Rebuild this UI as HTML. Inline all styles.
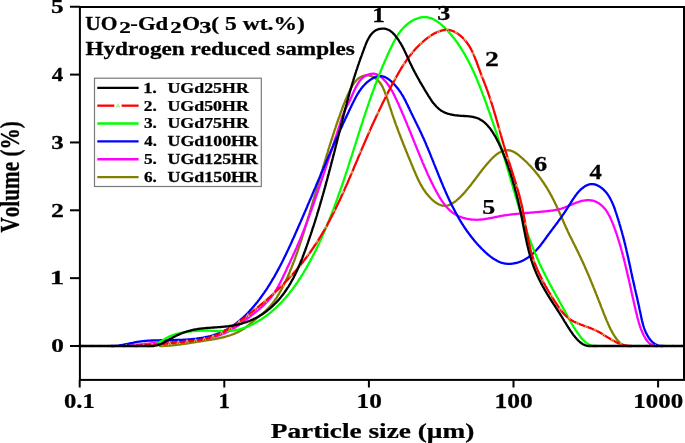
<!DOCTYPE html>
<html><head><meta charset="utf-8"><style>
html,body{margin:0;padding:0;background:#fff;width:685px;height:443px;overflow:hidden}
svg{display:block;will-change:transform}
text{font-family:"Liberation Serif",serif;font-weight:bold}
</style></head><body>
<svg width="685" height="443" viewBox="0 0 685 443"><rect width="685" height="443" fill="#fff"/><g stroke="#000" stroke-width="2" fill="none" stroke-linecap="butt">
<rect x="79.9" y="7.0" width="604.1" height="372.9"/>
<line x1="70" y1="346.00" x2="80" y2="346.00"/>
<line x1="70" y1="278.15" x2="80" y2="278.15"/>
<line x1="70" y1="210.30" x2="80" y2="210.30"/>
<line x1="70" y1="142.45" x2="80" y2="142.45"/>
<line x1="70" y1="74.60" x2="80" y2="74.60"/>
<line x1="70" y1="6.75" x2="80" y2="6.75"/>
<line x1="79.70" y1="380" x2="79.70" y2="387.5"/>
<line x1="224.30" y1="380" x2="224.30" y2="387.5"/>
<line x1="368.90" y1="380" x2="368.90" y2="387.5"/>
<line x1="513.50" y1="380" x2="513.50" y2="387.5"/>
<line x1="658.10" y1="380" x2="658.10" y2="387.5"/>
</g>
<g fill="none" stroke-width="2.3" stroke-linejoin="round" stroke-linecap="round">
<path d="M160.0,346.0 L161.0,346.0 L162.0,346.0 L163.0,346.0 L164.0,345.9 L165.0,345.9 L166.0,345.8 L167.0,345.8 L168.0,345.7 L169.0,345.6 L170.0,345.5 L170.9,345.5 L171.9,345.4 L172.9,345.3 L173.9,345.2 L174.9,345.1 L175.9,345.0 L176.9,344.8 L177.9,344.7 L178.9,344.6 L179.9,344.5 L180.9,344.3 L181.9,344.2 L182.9,344.1 L183.8,343.9 L184.8,343.8 L185.8,343.6 L186.8,343.5 L187.8,343.3 L188.8,343.2 L189.8,343.0 L190.8,342.9 L191.7,342.7 L192.7,342.6 L193.7,342.4 L194.7,342.3 L195.7,342.1 L196.7,341.9 L197.7,341.8 L198.6,341.6 L199.6,341.5 L200.6,341.3 L201.6,341.2 L202.6,341.0 L203.6,340.8 L204.6,340.7 L205.6,340.5 L206.5,340.4 L207.5,340.2 L208.5,340.1 L209.5,339.9 L210.5,339.8 L211.5,339.6 L212.5,339.4 L213.4,339.3 L214.4,339.1 L215.4,338.9 L216.4,338.7 L217.4,338.5 L218.4,338.3 L219.3,338.1 L220.3,337.9 L221.3,337.7 L222.3,337.5 L223.2,337.3 L224.2,337.0 L225.2,336.8 L226.1,336.5 L227.1,336.2 L228.0,335.9 L229.0,335.6 L229.9,335.3 L230.9,335.0 L231.8,334.7 L232.8,334.3 L233.7,334.0 L234.6,333.6 L235.5,333.2 L236.5,332.8 L237.4,332.4 L238.3,331.9 L239.1,331.5 L240.0,331.0 L240.9,330.5 L241.8,330.0 L242.6,329.5 L243.4,328.9 L244.3,328.4 L245.1,327.8 L245.9,327.2 L246.7,326.6 L247.5,326.0 L248.3,325.4 L249.0,324.8 L249.8,324.1 L250.6,323.5 L251.3,322.8 L252.1,322.2 L252.9,321.5 L253.6,320.9 L254.4,320.2 L255.1,319.6 L255.9,318.9 L256.7,318.3 L257.4,317.7 L258.2,317.0 L259.0,316.4 L259.8,315.8 L260.5,315.1 L261.3,314.5 L262.1,313.9 L262.8,313.2 L263.6,312.6 L264.4,311.9 L265.1,311.3 L265.9,310.6 L266.6,309.9 L267.3,309.2 L268.0,308.5 L268.7,307.8 L269.4,307.1 L270.1,306.3 L270.7,305.6 L271.4,304.8 L272.0,304.0 L272.6,303.3 L273.2,302.5 L273.8,301.7 L274.4,300.9 L275.0,300.0 L275.5,299.2 L276.1,298.4 L276.7,297.6 L277.2,296.7 L277.7,295.9 L278.2,295.0 L278.8,294.2 L279.3,293.3 L279.8,292.4 L280.3,291.6 L280.7,290.7 L281.2,289.8 L281.7,288.9 L282.2,288.1 L282.6,287.2 L283.1,286.3 L283.5,285.4 L284.0,284.5 L284.4,283.6 L284.8,282.7 L285.3,281.8 L285.7,280.9 L286.1,280.0 L286.6,279.1 L287.0,278.2 L287.4,277.3 L287.8,276.4 L288.2,275.4 L288.6,274.5 L289.0,273.6 L289.4,272.7 L289.8,271.8 L290.2,270.8 L290.5,269.9 L290.9,269.0 L291.3,268.1 L291.7,267.2 L292.0,266.2 L292.4,265.3 L292.8,264.4 L293.1,263.4 L293.5,262.5 L293.9,261.6 L294.2,260.6 L294.6,259.7 L294.9,258.8 L295.2,257.8 L295.6,256.9 L295.9,255.9 L296.3,255.0 L296.6,254.1 L296.9,253.1 L297.3,252.2 L297.6,251.2 L297.9,250.3 L298.2,249.3 L298.5,248.4 L298.9,247.4 L299.2,246.5 L299.5,245.6 L299.8,244.6 L300.1,243.7 L300.4,242.7 L300.7,241.8 L301.0,240.8 L301.4,239.9 L301.7,238.9 L302.0,238.0 L302.3,237.0 L302.6,236.0 L302.9,235.1 L303.2,234.1 L303.5,233.2 L303.8,232.2 L304.1,231.3 L304.4,230.3 L304.6,229.4 L304.9,228.4 L305.2,227.5 L305.5,226.5 L305.8,225.6 L306.1,224.6 L306.4,223.6 L306.7,222.7 L307.0,221.7 L307.3,220.8 L307.6,219.8 L307.8,218.9 L308.1,217.9 L308.4,216.9 L308.7,216.0 L309.0,215.0 L309.3,214.1 L309.6,213.1 L309.9,212.2 L310.1,211.2 L310.4,210.2 L310.7,209.3 L311.0,208.3 L311.3,207.4 L311.6,206.4 L311.8,205.5 L312.1,204.5 L312.4,203.5 L312.7,202.6 L313.0,201.6 L313.3,200.7 L313.5,199.7 L313.8,198.8 L314.1,197.8 L314.4,196.8 L314.7,195.9 L314.9,194.9 L315.2,194.0 L315.5,193.0 L315.8,192.0 L316.1,191.1 L316.3,190.1 L316.6,189.2 L316.9,188.2 L317.2,187.2 L317.5,186.3 L317.7,185.3 L318.0,184.4 L318.3,183.4 L318.6,182.5 L318.9,181.5 L319.2,180.5 L319.4,179.6 L319.7,178.6 L320.0,177.7 L320.3,176.7 L320.6,175.7 L320.8,174.8 L321.1,173.8 L321.4,172.9 L321.7,171.9 L322.0,171.0 L322.3,170.0 L322.6,169.0 L322.8,168.1 L323.1,167.1 L323.4,166.2 L323.7,165.2 L324.0,164.3 L324.3,163.3 L324.6,162.3 L324.8,161.4 L325.1,160.4 L325.4,159.5 L325.7,158.5 L326.0,157.6 L326.3,156.6 L326.6,155.7 L326.9,154.7 L327.2,153.7 L327.5,152.8 L327.8,151.8 L328.0,150.9 L328.3,149.9 L328.6,149.0 L328.9,148.0 L329.2,147.1 L329.5,146.1 L329.8,145.2 L330.1,144.2 L330.4,143.3 L330.7,142.3 L331.0,141.3 L331.3,140.4 L331.6,139.4 L332.0,138.5 L332.3,137.5 L332.6,136.6 L332.9,135.6 L333.2,134.7 L333.5,133.7 L333.8,132.8 L334.1,131.8 L334.4,130.9 L334.7,129.9 L335.1,129.0 L335.4,128.1 L335.7,127.1 L336.0,126.2 L336.3,125.2 L336.6,124.3 L337.0,123.3 L337.3,122.4 L337.6,121.4 L337.9,120.5 L338.3,119.5 L338.6,118.6 L338.9,117.7 L339.3,116.7 L339.6,115.8 L339.9,114.8 L340.3,113.9 L340.6,112.9 L340.9,112.0 L341.3,111.1 L341.6,110.1 L342.0,109.2 L342.3,108.3 L342.7,107.3 L343.0,106.4 L343.4,105.5 L343.7,104.5 L344.1,103.6 L344.5,102.7 L344.9,101.7 L345.2,100.8 L345.6,99.9 L346.0,99.0 L346.4,98.1 L346.8,97.1 L347.2,96.2 L347.6,95.3 L348.0,94.4 L348.4,93.5 L348.8,92.6 L349.3,91.7 L349.7,90.8 L350.1,89.9 L350.6,89.0 L351.0,88.1 L351.5,87.2 L352.0,86.4 L352.5,85.5 L353.0,84.6 L353.6,83.8 L354.1,83.0 L354.7,82.2 L355.4,81.4 L356.0,80.7 L356.7,79.9 L357.5,79.3 L358.2,78.6 L359.0,78.0 L359.9,77.5 L360.8,77.0 L361.7,76.6 L362.6,76.2 L363.5,75.9 L364.5,75.6 L365.5,75.5 L366.5,75.4 L367.5,75.4 L368.5,75.4 L369.5,75.6 L370.4,75.8 L371.4,76.1 L372.3,76.5 L373.2,76.9 L374.1,77.4 L374.9,77.9 L375.7,78.5 L376.5,79.1 L377.3,79.8 L378.0,80.5 L378.7,81.2 L379.3,81.9 L380.0,82.7 L380.5,83.5 L381.1,84.4 L381.6,85.2 L382.1,86.1 L382.6,87.0 L383.0,87.9 L383.4,88.8 L383.8,89.7 L384.2,90.6 L384.6,91.5 L384.9,92.5 L385.3,93.4 L385.6,94.3 L386.0,95.3 L386.3,96.2 L386.7,97.2 L387.0,98.1 L387.3,99.0 L387.6,100.0 L388.0,100.9 L388.3,101.9 L388.6,102.8 L388.9,103.8 L389.2,104.7 L389.5,105.7 L389.8,106.6 L390.1,107.6 L390.4,108.5 L390.8,109.5 L391.1,110.4 L391.4,111.4 L391.7,112.3 L392.0,113.3 L392.3,114.2 L392.6,115.2 L393.0,116.1 L393.3,117.1 L393.6,118.0 L393.9,118.9 L394.3,119.9 L394.6,120.8 L394.9,121.8 L395.3,122.7 L395.6,123.7 L395.9,124.6 L396.3,125.5 L396.6,126.5 L397.0,127.4 L397.3,128.3 L397.7,129.3 L398.0,130.2 L398.4,131.2 L398.7,132.1 L399.1,133.0 L399.4,134.0 L399.8,134.9 L400.2,135.8 L400.5,136.8 L400.9,137.7 L401.2,138.6 L401.6,139.5 L402.0,140.5 L402.3,141.4 L402.7,142.3 L403.1,143.3 L403.4,144.2 L403.8,145.1 L404.2,146.0 L404.5,147.0 L404.9,147.9 L405.3,148.8 L405.7,149.8 L406.0,150.7 L406.4,151.6 L406.8,152.5 L407.2,153.5 L407.5,154.4 L407.9,155.3 L408.3,156.2 L408.7,157.2 L409.1,158.1 L409.4,159.0 L409.8,159.9 L410.2,160.8 L410.6,161.8 L411.0,162.7 L411.3,163.6 L411.7,164.5 L412.1,165.5 L412.5,166.4 L412.9,167.3 L413.2,168.2 L413.6,169.2 L414.0,170.1 L414.4,171.0 L414.8,171.9 L415.2,172.8 L415.6,173.8 L416.0,174.7 L416.4,175.6 L416.8,176.5 L417.2,177.4 L417.6,178.3 L418.0,179.2 L418.4,180.1 L418.9,181.0 L419.3,181.9 L419.8,182.8 L420.3,183.7 L420.7,184.6 L421.2,185.4 L421.7,186.3 L422.2,187.2 L422.7,188.0 L423.3,188.9 L423.8,189.7 L424.4,190.5 L425.0,191.3 L425.5,192.2 L426.1,193.0 L426.8,193.7 L427.4,194.5 L428.0,195.3 L428.7,196.1 L429.3,196.8 L430.0,197.5 L430.7,198.2 L431.4,199.0 L432.1,199.6 L432.9,200.3 L433.6,201.0 L434.4,201.6 L435.2,202.2 L436.0,202.7 L436.9,203.3 L437.7,203.8 L438.6,204.3 L439.5,204.7 L440.5,205.0 L441.4,205.3 L442.4,205.6 L443.4,205.7 L444.4,205.8 L445.4,205.8 L446.4,205.7 L447.3,205.5 L448.3,205.3 L449.3,204.9 L450.2,204.5 L451.1,204.1 L452.0,203.6 L452.8,203.1 L453.7,202.6 L454.5,202.0 L455.3,201.4 L456.1,200.8 L456.8,200.2 L457.6,199.5 L458.3,198.9 L459.1,198.2 L459.8,197.5 L460.5,196.8 L461.2,196.1 L461.9,195.3 L462.6,194.6 L463.3,193.9 L463.9,193.2 L464.6,192.4 L465.3,191.7 L465.9,190.9 L466.6,190.1 L467.2,189.4 L467.8,188.6 L468.5,187.8 L469.1,187.1 L469.7,186.3 L470.4,185.5 L471.0,184.7 L471.6,183.9 L472.2,183.1 L472.8,182.3 L473.4,181.6 L474.0,180.8 L474.6,180.0 L475.2,179.2 L475.8,178.4 L476.4,177.6 L477.0,176.8 L477.6,176.0 L478.2,175.2 L478.8,174.4 L479.4,173.6 L480.0,172.8 L480.6,172.0 L481.2,171.2 L481.8,170.4 L482.4,169.6 L483.0,168.8 L483.7,168.0 L484.3,167.2 L484.9,166.5 L485.6,165.7 L486.2,164.9 L486.8,164.2 L487.5,163.4 L488.2,162.7 L488.8,161.9 L489.5,161.2 L490.2,160.4 L490.8,159.7 L491.5,159.0 L492.2,158.3 L492.9,157.6 L493.7,156.9 L494.4,156.2 L495.2,155.6 L495.9,154.9 L496.7,154.3 L497.5,153.7 L498.4,153.2 L499.2,152.6 L500.1,152.2 L501.0,151.7 L501.9,151.3 L502.8,151.0 L503.8,150.7 L504.8,150.5 L505.8,150.3 L506.8,150.3 L507.8,150.2 L508.7,150.3 L509.7,150.4 L510.7,150.7 L511.7,151.0 L512.6,151.3 L513.5,151.7 L514.4,152.2 L515.2,152.7 L516.1,153.3 L516.9,153.8 L517.7,154.4 L518.5,155.0 L519.3,155.7 L520.0,156.3 L520.8,157.0 L521.6,157.6 L522.3,158.3 L523.1,158.9 L523.8,159.6 L524.5,160.3 L525.3,161.0 L526.0,161.6 L526.7,162.3 L527.4,163.0 L528.1,163.8 L528.8,164.5 L529.5,165.2 L530.2,165.9 L530.9,166.6 L531.5,167.4 L532.2,168.1 L532.9,168.9 L533.5,169.6 L534.2,170.4 L534.8,171.1 L535.5,171.9 L536.1,172.7 L536.7,173.5 L537.4,174.2 L538.0,175.0 L538.6,175.8 L539.2,176.6 L539.8,177.4 L540.4,178.2 L541.0,179.0 L541.5,179.8 L542.1,180.7 L542.7,181.5 L543.2,182.3 L543.8,183.1 L544.3,184.0 L544.9,184.8 L545.4,185.7 L546.0,186.5 L546.5,187.3 L547.0,188.2 L547.5,189.0 L548.0,189.9 L548.6,190.8 L549.1,191.6 L549.6,192.5 L550.0,193.4 L550.5,194.2 L551.0,195.1 L551.5,196.0 L552.0,196.9 L552.4,197.8 L552.9,198.6 L553.3,199.5 L553.8,200.4 L554.2,201.3 L554.7,202.2 L555.1,203.1 L555.5,204.0 L556.0,204.9 L556.4,205.8 L556.8,206.7 L557.2,207.6 L557.6,208.5 L558.1,209.5 L558.5,210.4 L558.9,211.3 L559.3,212.2 L559.7,213.1 L560.1,214.0 L560.5,214.9 L560.9,215.9 L561.3,216.8 L561.7,217.7 L562.1,218.6 L562.5,219.5 L562.9,220.4 L563.3,221.3 L563.7,222.3 L564.1,223.2 L564.5,224.1 L564.9,225.0 L565.3,225.9 L565.7,226.8 L566.1,227.7 L566.5,228.6 L567.0,229.5 L567.4,230.4 L567.8,231.4 L568.2,232.3 L568.7,233.2 L569.1,234.1 L569.5,235.0 L570.0,235.9 L570.4,236.7 L570.9,237.6 L571.3,238.5 L571.7,239.4 L572.2,240.3 L572.6,241.2 L573.1,242.1 L573.5,243.0 L574.0,243.9 L574.4,244.8 L574.9,245.7 L575.3,246.6 L575.8,247.5 L576.2,248.4 L576.6,249.3 L577.1,250.2 L577.5,251.1 L578.0,252.0 L578.4,252.9 L578.8,253.8 L579.3,254.7 L579.7,255.6 L580.1,256.5 L580.6,257.4 L581.0,258.3 L581.4,259.2 L581.8,260.1 L582.2,261.0 L582.7,261.9 L583.1,262.8 L583.5,263.7 L583.9,264.6 L584.3,265.5 L584.7,266.4 L585.1,267.4 L585.5,268.3 L585.9,269.2 L586.3,270.1 L586.7,271.0 L587.1,271.9 L587.5,272.9 L587.9,273.8 L588.3,274.7 L588.7,275.6 L589.1,276.5 L589.5,277.5 L589.9,278.4 L590.2,279.3 L590.6,280.2 L591.0,281.1 L591.4,282.1 L591.8,283.0 L592.1,283.9 L592.5,284.8 L592.9,285.8 L593.3,286.7 L593.6,287.6 L594.0,288.5 L594.4,289.5 L594.8,290.4 L595.1,291.3 L595.5,292.2 L595.9,293.2 L596.2,294.1 L596.6,295.0 L597.0,296.0 L597.3,296.9 L597.7,297.8 L598.1,298.8 L598.4,299.7 L598.8,300.6 L599.2,301.5 L599.5,302.5 L599.9,303.4 L600.3,304.3 L600.6,305.3 L601.0,306.2 L601.3,307.1 L601.7,308.1 L602.1,309.0 L602.4,309.9 L602.8,310.8 L603.2,311.8 L603.5,312.7 L603.9,313.6 L604.2,314.6 L604.6,315.5 L605.0,316.4 L605.4,317.4 L605.7,318.3 L606.1,319.2 L606.5,320.1 L606.9,321.1 L607.3,322.0 L607.7,322.9 L608.1,323.8 L608.5,324.7 L608.9,325.6 L609.3,326.5 L609.7,327.4 L610.2,328.3 L610.6,329.2 L611.1,330.1 L611.6,331.0 L612.0,331.9 L612.5,332.7 L613.0,333.6 L613.5,334.4 L614.1,335.3 L614.6,336.1 L615.2,337.0 L615.7,337.8 L616.3,338.6 L616.9,339.4 L617.5,340.2 L618.2,340.9 L618.9,341.7 L619.6,342.4 L620.3,343.1 L621.1,343.7 L621.9,344.2 L622.8,344.8 L623.7,345.2 L624.6,345.5 L625.6,345.8 L626.5,346.0 L627.5,346.0 L628.5,346.0" stroke="#808000"/>
<path d="M123.0,346.0 L124.0,346.0 L125.0,345.9 L126.0,345.8 L127.0,345.8 L128.0,345.7 L129.0,345.6 L130.0,345.5 L131.0,345.4 L132.0,345.3 L132.9,345.2 L133.9,345.1 L134.9,345.0 L135.9,344.9 L136.9,344.8 L137.9,344.7 L138.9,344.6 L139.9,344.5 L140.9,344.4 L141.9,344.3 L142.9,344.2 L143.9,344.1 L144.9,344.0 L145.9,343.9 L146.9,343.8 L147.9,343.7 L148.9,343.6 L149.9,343.5 L150.8,343.4 L151.8,343.3 L152.8,343.2 L153.8,343.1 L154.8,343.0 L155.8,342.9 L156.8,342.8 L157.8,342.7 L158.8,342.6 L159.8,342.5 L160.8,342.4 L161.8,342.3 L162.8,342.2 L163.8,342.1 L164.8,342.0 L165.8,341.9 L166.8,341.8 L167.8,341.7 L168.7,341.7 L169.7,341.6 L170.7,341.5 L171.7,341.4 L172.7,341.3 L173.7,341.2 L174.7,341.2 L175.7,341.1 L176.7,341.0 L177.7,341.0 L178.7,340.9 L179.7,340.8 L180.7,340.8 L181.7,340.7 L182.7,340.6 L183.7,340.6 L184.7,340.5 L185.7,340.4 L186.7,340.4 L187.7,340.3 L188.7,340.3 L189.7,340.2 L190.7,340.1 L191.7,340.0 L192.7,340.0 L193.7,339.9 L194.7,339.8 L195.7,339.7 L196.7,339.6 L197.7,339.5 L198.6,339.4 L199.6,339.3 L200.6,339.2 L201.6,339.1 L202.6,339.0 L203.6,338.8 L204.6,338.7 L205.6,338.5 L206.6,338.4 L207.6,338.2 L208.5,338.0 L209.5,337.8 L210.5,337.6 L211.5,337.4 L212.5,337.2 L213.4,337.0 L214.4,336.7 L215.4,336.5 L216.3,336.2 L217.3,335.9 L218.2,335.6 L219.2,335.3 L220.1,335.0 L221.1,334.7 L222.0,334.3 L222.9,334.0 L223.9,333.6 L224.8,333.2 L225.7,332.8 L226.6,332.4 L227.5,331.9 L228.4,331.5 L229.3,331.0 L230.1,330.5 L231.0,330.0 L231.9,329.5 L232.7,329.0 L233.6,328.5 L234.4,327.9 L235.3,327.4 L236.1,326.8 L236.9,326.3 L237.8,325.7 L238.6,325.2 L239.4,324.6 L240.2,324.0 L241.0,323.4 L241.8,322.8 L242.6,322.2 L243.4,321.6 L244.2,321.0 L245.0,320.4 L245.8,319.8 L246.6,319.2 L247.4,318.6 L248.2,318.0 L249.0,317.4 L249.8,316.8 L250.6,316.2 L251.4,315.5 L252.1,314.9 L252.9,314.3 L253.7,313.7 L254.5,313.1 L255.3,312.4 L256.0,311.8 L256.8,311.2 L257.6,310.5 L258.3,309.9 L259.1,309.2 L259.9,308.6 L260.6,307.9 L261.4,307.3 L262.1,306.6 L262.9,305.9 L263.6,305.3 L264.3,304.6 L265.0,303.9 L265.8,303.2 L266.5,302.5 L267.2,301.8 L267.8,301.0 L268.5,300.3 L269.2,299.5 L269.8,298.8 L270.5,298.0 L271.1,297.2 L271.7,296.4 L272.3,295.6 L272.9,294.8 L273.5,294.0 L274.0,293.2 L274.6,292.4 L275.1,291.5 L275.7,290.7 L276.2,289.8 L276.7,289.0 L277.2,288.1 L277.7,287.2 L278.2,286.4 L278.7,285.5 L279.1,284.6 L279.6,283.7 L280.1,282.8 L280.5,282.0 L281.0,281.1 L281.4,280.2 L281.9,279.3 L282.3,278.4 L282.8,277.5 L283.2,276.6 L283.6,275.7 L284.0,274.8 L284.5,273.9 L284.9,273.0 L285.3,272.1 L285.7,271.2 L286.2,270.3 L286.6,269.3 L287.0,268.4 L287.4,267.5 L287.9,266.6 L288.3,265.7 L288.7,264.8 L289.1,263.9 L289.6,263.0 L290.0,262.1 L290.4,261.2 L290.8,260.3 L291.2,259.4 L291.7,258.5 L292.1,257.6 L292.5,256.7 L292.9,255.8 L293.3,254.8 L293.7,253.9 L294.2,253.0 L294.6,252.1 L295.0,251.2 L295.4,250.3 L295.8,249.4 L296.2,248.5 L296.6,247.6 L297.0,246.6 L297.4,245.7 L297.8,244.8 L298.2,243.9 L298.6,243.0 L299.0,242.0 L299.4,241.1 L299.8,240.2 L300.1,239.3 L300.5,238.4 L300.9,237.4 L301.3,236.5 L301.7,235.6 L302.0,234.7 L302.4,233.7 L302.8,232.8 L303.2,231.9 L303.5,230.9 L303.9,230.0 L304.3,229.1 L304.6,228.2 L305.0,227.2 L305.3,226.3 L305.7,225.4 L306.0,224.4 L306.4,223.5 L306.8,222.6 L307.1,221.6 L307.5,220.7 L307.8,219.7 L308.2,218.8 L308.5,217.9 L308.8,216.9 L309.2,216.0 L309.5,215.1 L309.9,214.1 L310.2,213.2 L310.5,212.2 L310.9,211.3 L311.2,210.4 L311.6,209.4 L311.9,208.5 L312.2,207.5 L312.6,206.6 L312.9,205.6 L313.2,204.7 L313.6,203.8 L313.9,202.8 L314.2,201.9 L314.5,200.9 L314.9,200.0 L315.2,199.0 L315.5,198.1 L315.8,197.1 L316.2,196.2 L316.5,195.3 L316.8,194.3 L317.1,193.4 L317.5,192.4 L317.8,191.5 L318.1,190.5 L318.4,189.6 L318.7,188.6 L319.1,187.7 L319.4,186.7 L319.7,185.8 L320.0,184.8 L320.3,183.9 L320.6,183.0 L321.0,182.0 L321.3,181.1 L321.6,180.1 L321.9,179.2 L322.2,178.2 L322.6,177.3 L322.9,176.3 L323.2,175.4 L323.5,174.4 L323.8,173.5 L324.1,172.5 L324.5,171.6 L324.8,170.6 L325.1,169.7 L325.4,168.7 L325.7,167.8 L326.0,166.8 L326.4,165.9 L326.7,164.9 L327.0,164.0 L327.3,163.0 L327.6,162.1 L327.9,161.1 L328.2,160.2 L328.6,159.2 L328.9,158.3 L329.2,157.3 L329.5,156.4 L329.8,155.5 L330.1,154.5 L330.4,153.6 L330.7,152.6 L331.0,151.7 L331.4,150.7 L331.7,149.8 L332.0,148.8 L332.3,147.9 L332.6,146.9 L332.9,146.0 L333.2,145.0 L333.5,144.0 L333.8,143.1 L334.1,142.1 L334.4,141.2 L334.7,140.2 L335.0,139.3 L335.4,138.3 L335.7,137.4 L336.0,136.4 L336.3,135.5 L336.6,134.5 L336.9,133.6 L337.2,132.6 L337.5,131.7 L337.8,130.7 L338.1,129.8 L338.4,128.8 L338.7,127.9 L339.0,126.9 L339.3,126.0 L339.6,125.0 L339.9,124.1 L340.2,123.1 L340.5,122.1 L340.8,121.2 L341.1,120.2 L341.4,119.3 L341.7,118.3 L342.0,117.4 L342.4,116.5 L342.7,115.5 L343.1,114.6 L343.4,113.7 L343.8,112.7 L344.2,111.8 L344.6,110.9 L345.0,110.0 L345.5,109.1 L345.9,108.2 L346.4,107.3 L346.8,106.4 L347.3,105.5 L347.8,104.7 L348.2,103.8 L348.7,102.9 L349.1,102.0 L349.6,101.1 L350.0,100.2 L350.4,99.3 L350.8,98.4 L351.3,97.5 L351.6,96.5 L352.0,95.6 L352.4,94.7 L352.8,93.8 L353.2,92.9 L353.6,92.0 L354.0,91.0 L354.4,90.1 L354.9,89.2 L355.3,88.3 L355.7,87.4 L356.2,86.5 L356.7,85.7 L357.2,84.8 L357.7,83.9 L358.2,83.1 L358.8,82.3 L359.3,81.4 L360.0,80.6 L360.6,79.9 L361.3,79.1 L362.0,78.4 L362.7,77.8 L363.5,77.1 L364.3,76.5 L365.1,76.0 L366.0,75.5 L366.9,75.1 L367.8,74.7 L368.8,74.4 L369.7,74.1 L370.7,73.9 L371.7,73.8 L372.7,73.7 L373.7,73.7 L374.7,73.9 L375.7,74.1 L376.6,74.4 L377.5,74.8 L378.4,75.2 L379.3,75.8 L380.1,76.3 L380.9,76.9 L381.7,77.6 L382.4,78.3 L383.1,78.9 L383.8,79.7 L384.5,80.4 L385.2,81.1 L385.8,81.9 L386.5,82.6 L387.1,83.4 L387.7,84.2 L388.3,85.0 L388.9,85.9 L389.4,86.7 L390.0,87.5 L390.5,88.4 L391.0,89.2 L391.5,90.1 L392.0,90.9 L392.5,91.8 L393.0,92.7 L393.4,93.6 L393.9,94.5 L394.4,95.4 L394.8,96.3 L395.2,97.2 L395.7,98.1 L396.1,99.0 L396.5,99.9 L396.9,100.8 L397.3,101.7 L397.8,102.6 L398.2,103.5 L398.6,104.4 L399.0,105.3 L399.4,106.2 L399.8,107.2 L400.2,108.1 L400.6,109.0 L401.0,109.9 L401.4,110.8 L401.8,111.7 L402.2,112.7 L402.6,113.6 L403.0,114.5 L403.4,115.4 L403.8,116.3 L404.2,117.2 L404.5,118.2 L404.9,119.1 L405.3,120.0 L405.7,120.9 L406.1,121.9 L406.5,122.8 L406.9,123.7 L407.2,124.6 L407.6,125.6 L408.0,126.5 L408.4,127.4 L408.8,128.3 L409.1,129.3 L409.5,130.2 L409.9,131.1 L410.3,132.0 L410.6,133.0 L411.0,133.9 L411.4,134.8 L411.8,135.7 L412.1,136.7 L412.5,137.6 L412.9,138.5 L413.3,139.4 L413.6,140.4 L414.0,141.3 L414.4,142.2 L414.8,143.1 L415.1,144.1 L415.5,145.0 L415.9,145.9 L416.3,146.8 L416.6,147.8 L417.0,148.7 L417.4,149.6 L417.8,150.6 L418.1,151.5 L418.5,152.4 L418.9,153.3 L419.3,154.2 L419.7,155.2 L420.0,156.1 L420.4,157.0 L420.8,157.9 L421.2,158.9 L421.6,159.8 L422.0,160.7 L422.3,161.6 L422.7,162.6 L423.1,163.5 L423.5,164.4 L423.9,165.3 L424.3,166.2 L424.7,167.2 L425.1,168.1 L425.5,169.0 L425.9,169.9 L426.3,170.8 L426.7,171.7 L427.1,172.6 L427.5,173.6 L427.9,174.5 L428.3,175.4 L428.7,176.3 L429.2,177.2 L429.6,178.1 L430.0,179.0 L430.4,179.9 L430.9,180.8 L431.3,181.7 L431.7,182.6 L432.2,183.5 L432.6,184.4 L433.1,185.3 L433.5,186.2 L434.0,187.1 L434.4,188.0 L434.9,188.9 L435.4,189.7 L435.8,190.6 L436.3,191.5 L436.8,192.4 L437.3,193.2 L437.8,194.1 L438.3,195.0 L438.8,195.9 L439.3,196.7 L439.8,197.6 L440.3,198.4 L440.8,199.3 L441.4,200.1 L441.9,200.9 L442.5,201.8 L443.1,202.6 L443.7,203.4 L444.3,204.2 L444.9,205.0 L445.5,205.7 L446.2,206.5 L446.8,207.3 L447.5,208.0 L448.2,208.7 L448.9,209.4 L449.6,210.1 L450.4,210.8 L451.1,211.4 L451.9,212.1 L452.7,212.7 L453.5,213.2 L454.3,213.8 L455.2,214.3 L456.1,214.8 L456.9,215.3 L457.8,215.7 L458.7,216.2 L459.6,216.6 L460.6,216.9 L461.5,217.3 L462.5,217.6 L463.4,217.9 L464.4,218.2 L465.3,218.4 L466.3,218.7 L467.3,218.9 L468.3,219.1 L469.3,219.2 L470.2,219.4 L471.2,219.5 L472.2,219.6 L473.2,219.7 L474.2,219.7 L475.2,219.7 L476.2,219.8 L477.2,219.8 L478.2,219.7 L479.2,219.7 L480.2,219.6 L481.2,219.5 L482.2,219.4 L483.2,219.3 L484.2,219.2 L485.2,219.0 L486.2,218.9 L487.2,218.7 L488.1,218.5 L489.1,218.4 L490.1,218.2 L491.1,218.0 L492.1,217.8 L493.0,217.6 L494.0,217.4 L495.0,217.2 L496.0,217.0 L497.0,216.8 L497.9,216.6 L498.9,216.4 L499.9,216.2 L500.9,216.0 L501.9,215.8 L502.8,215.7 L503.8,215.5 L504.8,215.4 L505.8,215.2 L506.8,215.1 L507.8,214.9 L508.8,214.8 L509.8,214.7 L510.8,214.5 L511.8,214.4 L512.7,214.3 L513.7,214.2 L514.7,214.1 L515.7,214.0 L516.7,213.9 L517.7,213.8 L518.7,213.7 L519.7,213.6 L520.7,213.5 L521.7,213.4 L522.7,213.3 L523.7,213.2 L524.7,213.1 L525.7,213.0 L526.7,213.0 L527.7,212.9 L528.7,212.8 L529.7,212.7 L530.7,212.6 L531.7,212.6 L532.7,212.5 L533.6,212.4 L534.6,212.3 L535.6,212.2 L536.6,212.2 L537.6,212.1 L538.6,212.0 L539.6,211.9 L540.6,211.8 L541.6,211.7 L542.6,211.6 L543.6,211.5 L544.6,211.4 L545.6,211.3 L546.6,211.2 L547.6,211.1 L548.6,211.0 L549.6,210.9 L550.6,210.7 L551.5,210.6 L552.5,210.5 L553.5,210.3 L554.5,210.1 L555.5,210.0 L556.5,209.8 L557.4,209.6 L558.4,209.3 L559.4,209.1 L560.4,208.8 L561.3,208.6 L562.3,208.3 L563.2,207.9 L564.2,207.6 L565.1,207.3 L566.0,206.9 L567.0,206.5 L567.9,206.1 L568.8,205.8 L569.7,205.4 L570.6,205.0 L571.6,204.6 L572.5,204.2 L573.4,203.8 L574.3,203.4 L575.3,203.1 L576.2,202.7 L577.1,202.4 L578.1,202.1 L579.0,201.7 L580.0,201.5 L580.9,201.2 L581.9,201.0 L582.9,200.7 L583.9,200.6 L584.9,200.4 L585.9,200.3 L586.9,200.2 L587.9,200.2 L588.9,200.2 L589.8,200.2 L590.8,200.3 L591.8,200.5 L592.8,200.7 L593.8,200.9 L594.7,201.2 L595.6,201.6 L596.6,202.0 L597.4,202.5 L598.3,203.0 L599.1,203.5 L600.0,204.1 L600.8,204.7 L601.5,205.4 L602.3,206.0 L603.0,206.7 L603.7,207.5 L604.3,208.2 L605.0,209.0 L605.6,209.8 L606.2,210.6 L606.7,211.4 L607.3,212.2 L607.8,213.1 L608.3,214.0 L608.8,214.8 L609.3,215.7 L609.7,216.6 L610.2,217.5 L610.6,218.4 L611.0,219.3 L611.4,220.2 L611.8,221.1 L612.2,222.1 L612.6,223.0 L612.9,223.9 L613.3,224.8 L613.7,225.8 L614.0,226.7 L614.4,227.6 L614.7,228.6 L615.0,229.5 L615.4,230.5 L615.7,231.4 L616.0,232.4 L616.4,233.3 L616.7,234.2 L617.0,235.2 L617.3,236.1 L617.6,237.1 L617.9,238.0 L618.2,239.0 L618.5,239.9 L618.8,240.9 L619.1,241.9 L619.4,242.8 L619.7,243.8 L620.0,244.7 L620.3,245.7 L620.5,246.7 L620.8,247.6 L621.1,248.6 L621.4,249.5 L621.6,250.5 L621.9,251.5 L622.2,252.4 L622.4,253.4 L622.7,254.4 L622.9,255.3 L623.2,256.3 L623.4,257.3 L623.7,258.2 L623.9,259.2 L624.2,260.2 L624.4,261.1 L624.7,262.1 L624.9,263.1 L625.1,264.0 L625.4,265.0 L625.6,266.0 L625.8,267.0 L626.1,267.9 L626.3,268.9 L626.5,269.9 L626.8,270.8 L627.0,271.8 L627.2,272.8 L627.4,273.8 L627.7,274.7 L627.9,275.7 L628.1,276.7 L628.3,277.7 L628.6,278.6 L628.8,279.6 L629.0,280.6 L629.2,281.6 L629.4,282.5 L629.7,283.5 L629.9,284.5 L630.1,285.5 L630.3,286.4 L630.5,287.4 L630.8,288.4 L631.0,289.4 L631.2,290.3 L631.4,291.3 L631.6,292.3 L631.8,293.3 L632.1,294.2 L632.3,295.2 L632.5,296.2 L632.7,297.2 L632.9,298.1 L633.2,299.1 L633.4,300.1 L633.6,301.1 L633.8,302.0 L634.0,303.0 L634.3,304.0 L634.5,305.0 L634.7,305.9 L634.9,306.9 L635.2,307.9 L635.4,308.9 L635.6,309.8 L635.8,310.8 L636.1,311.8 L636.3,312.7 L636.5,313.7 L636.8,314.7 L637.0,315.7 L637.2,316.6 L637.5,317.6 L637.7,318.6 L638.0,319.5 L638.3,320.5 L638.5,321.5 L638.8,322.4 L639.1,323.4 L639.4,324.3 L639.7,325.3 L640.0,326.2 L640.3,327.2 L640.7,328.1 L641.0,329.1 L641.4,330.0 L641.8,330.9 L642.1,331.8 L642.5,332.8 L643.0,333.7 L643.4,334.6 L643.8,335.5 L644.3,336.3 L644.8,337.2 L645.3,338.1 L645.8,338.9 L646.3,339.8 L646.9,340.6 L647.6,341.4 L648.2,342.1 L648.9,342.8 L649.7,343.5 L650.5,344.1 L651.3,344.6 L652.2,345.1 L653.1,345.5 L654.1,345.8 L655.0,346.0 L656.0,346.0 L657.0,346.0 L658.0,346.0" stroke="#ff00ff"/>
<path d="M111.0,346.0 L112.0,346.0 L113.0,346.0 L114.0,346.0 L115.0,345.9 L116.0,345.8 L117.0,345.7 L118.0,345.6 L119.0,345.5 L120.0,345.3 L121.0,345.1 L121.9,345.0 L122.9,344.8 L123.9,344.6 L124.9,344.4 L125.9,344.2 L126.8,344.0 L127.8,343.8 L128.8,343.6 L129.8,343.4 L130.8,343.2 L131.7,343.0 L132.7,342.8 L133.7,342.6 L134.7,342.4 L135.7,342.2 L136.6,342.0 L137.6,341.9 L138.6,341.7 L139.6,341.6 L140.6,341.4 L141.6,341.3 L142.6,341.2 L143.6,341.1 L144.6,341.0 L145.6,340.9 L146.6,340.8 L147.6,340.7 L148.6,340.7 L149.6,340.6 L150.5,340.6 L151.5,340.5 L152.5,340.5 L153.5,340.4 L154.5,340.4 L155.5,340.4 L156.5,340.3 L157.5,340.3 L158.5,340.3 L159.5,340.3 L160.5,340.2 L161.5,340.2 L162.5,340.2 L163.5,340.2 L164.5,340.2 L165.5,340.2 L166.5,340.2 L167.5,340.2 L168.5,340.2 L169.5,340.1 L170.5,340.1 L171.5,340.1 L172.5,340.1 L173.5,340.1 L174.5,340.1 L175.5,340.0 L176.5,340.0 L177.5,340.0 L178.5,339.9 L179.5,339.9 L180.5,339.9 L181.5,339.8 L182.5,339.8 L183.5,339.7 L184.5,339.7 L185.5,339.6 L186.5,339.6 L187.5,339.5 L188.5,339.4 L189.5,339.4 L190.5,339.3 L191.5,339.2 L192.5,339.1 L193.5,339.0 L194.5,338.9 L195.5,338.8 L196.5,338.7 L197.5,338.5 L198.4,338.4 L199.4,338.2 L200.4,338.1 L201.4,337.9 L202.4,337.8 L203.4,337.6 L204.4,337.4 L205.3,337.2 L206.3,337.0 L207.3,336.8 L208.3,336.5 L209.2,336.3 L210.2,336.1 L211.2,335.8 L212.1,335.5 L213.1,335.2 L214.0,334.9 L215.0,334.6 L215.9,334.3 L216.9,334.0 L217.8,333.6 L218.7,333.3 L219.7,332.9 L220.6,332.5 L221.5,332.1 L222.4,331.7 L223.3,331.3 L224.2,330.8 L225.1,330.4 L226.0,329.9 L226.9,329.4 L227.7,328.9 L228.6,328.4 L229.4,327.9 L230.3,327.4 L231.1,326.8 L232.0,326.3 L232.8,325.7 L233.6,325.2 L234.4,324.6 L235.3,324.0 L236.1,323.4 L236.8,322.8 L237.6,322.2 L238.4,321.5 L239.2,320.9 L240.0,320.3 L240.7,319.6 L241.5,319.0 L242.2,318.3 L243.0,317.6 L243.7,317.0 L244.4,316.3 L245.2,315.6 L245.9,314.9 L246.6,314.2 L247.3,313.5 L248.0,312.8 L248.7,312.0 L249.4,311.3 L250.0,310.6 L250.7,309.9 L251.4,309.1 L252.0,308.4 L252.7,307.6 L253.4,306.9 L254.0,306.1 L254.7,305.3 L255.3,304.6 L255.9,303.8 L256.5,303.0 L257.2,302.2 L257.8,301.4 L258.4,300.6 L259.0,299.9 L259.6,299.1 L260.2,298.3 L260.8,297.5 L261.4,296.6 L262.0,295.8 L262.6,295.0 L263.1,294.2 L263.7,293.4 L264.3,292.6 L264.8,291.7 L265.4,290.9 L266.0,290.1 L266.5,289.3 L267.1,288.4 L267.6,287.6 L268.1,286.7 L268.7,285.9 L269.2,285.1 L269.7,284.2 L270.3,283.4 L270.8,282.5 L271.3,281.6 L271.8,280.8 L272.3,279.9 L272.8,279.1 L273.4,278.2 L273.9,277.3 L274.4,276.5 L274.9,275.6 L275.3,274.7 L275.8,273.9 L276.3,273.0 L276.8,272.1 L277.3,271.2 L277.8,270.4 L278.2,269.5 L278.7,268.6 L279.2,267.7 L279.6,266.8 L280.1,266.0 L280.6,265.1 L281.0,264.2 L281.5,263.3 L281.9,262.4 L282.4,261.5 L282.8,260.6 L283.3,259.7 L283.7,258.8 L284.2,257.9 L284.6,257.0 L285.0,256.1 L285.5,255.2 L285.9,254.3 L286.3,253.4 L286.8,252.5 L287.2,251.6 L287.6,250.7 L288.1,249.8 L288.5,248.9 L288.9,248.0 L289.3,247.1 L289.7,246.2 L290.2,245.3 L290.6,244.4 L291.0,243.5 L291.4,242.6 L291.8,241.7 L292.2,240.7 L292.6,239.8 L293.0,238.9 L293.5,238.0 L293.9,237.1 L294.3,236.2 L294.7,235.3 L295.1,234.4 L295.5,233.4 L295.9,232.5 L296.3,231.6 L296.7,230.7 L297.1,229.8 L297.5,228.9 L297.9,228.0 L298.3,227.0 L298.7,226.1 L299.1,225.2 L299.5,224.3 L299.9,223.4 L300.3,222.5 L300.7,221.6 L301.1,220.6 L301.5,219.7 L301.9,218.8 L302.3,217.9 L302.7,217.0 L303.1,216.0 L303.5,215.1 L303.9,214.2 L304.3,213.3 L304.7,212.4 L305.1,211.5 L305.5,210.5 L305.9,209.6 L306.3,208.7 L306.7,207.8 L307.1,206.9 L307.4,206.0 L307.8,205.0 L308.2,204.1 L308.6,203.2 L309.0,202.3 L309.4,201.4 L309.8,200.4 L310.2,199.5 L310.6,198.6 L311.0,197.7 L311.4,196.8 L311.8,195.8 L312.2,194.9 L312.5,194.0 L312.9,193.1 L313.3,192.2 L313.7,191.2 L314.1,190.3 L314.5,189.4 L314.9,188.5 L315.3,187.6 L315.7,186.6 L316.1,185.7 L316.4,184.8 L316.8,183.9 L317.2,183.0 L317.6,182.0 L318.0,181.1 L318.4,180.2 L318.8,179.3 L319.2,178.4 L319.6,177.4 L320.0,176.5 L320.4,175.6 L320.7,174.7 L321.1,173.8 L321.5,172.8 L321.9,171.9 L322.3,171.0 L322.7,170.1 L323.1,169.2 L323.5,168.2 L323.9,167.3 L324.3,166.4 L324.7,165.5 L325.1,164.6 L325.5,163.7 L325.9,162.7 L326.2,161.8 L326.6,160.9 L327.0,160.0 L327.4,159.1 L327.8,158.1 L328.2,157.2 L328.6,156.3 L329.0,155.4 L329.4,154.5 L329.8,153.6 L330.2,152.6 L330.6,151.7 L331.0,150.8 L331.4,149.9 L331.8,149.0 L332.2,148.1 L332.6,147.1 L333.0,146.2 L333.4,145.3 L333.8,144.4 L334.2,143.5 L334.6,142.6 L335.0,141.7 L335.4,140.7 L335.8,139.8 L336.2,138.9 L336.6,138.0 L337.0,137.1 L337.5,136.2 L337.9,135.3 L338.3,134.4 L338.7,133.4 L339.1,132.5 L339.5,131.6 L339.9,130.7 L340.3,129.8 L340.7,128.9 L341.1,128.0 L341.6,127.1 L342.0,126.2 L342.4,125.2 L342.8,124.3 L343.2,123.4 L343.6,122.5 L344.1,121.6 L344.5,120.7 L344.9,119.8 L345.3,118.9 L345.7,118.0 L346.2,117.1 L346.6,116.2 L347.0,115.3 L347.4,114.4 L347.9,113.5 L348.3,112.6 L348.7,111.7 L349.1,110.8 L349.6,109.9 L350.0,108.9 L350.4,108.0 L350.9,107.1 L351.3,106.2 L351.7,105.3 L352.2,104.4 L352.6,103.5 L353.0,102.6 L353.5,101.8 L353.9,100.9 L354.4,100.0 L354.8,99.1 L355.3,98.2 L355.8,97.3 L356.2,96.4 L356.7,95.6 L357.2,94.7 L357.7,93.8 L358.3,93.0 L358.8,92.1 L359.3,91.3 L359.9,90.5 L360.5,89.6 L361.1,88.8 L361.7,88.0 L362.3,87.3 L362.9,86.5 L363.6,85.7 L364.3,85.0 L365.0,84.3 L365.7,83.6 L366.4,82.9 L367.2,82.2 L367.9,81.6 L368.7,81.0 L369.5,80.4 L370.3,79.8 L371.2,79.3 L372.0,78.8 L372.9,78.3 L373.8,77.8 L374.7,77.4 L375.6,77.0 L376.6,76.7 L377.5,76.5 L378.5,76.3 L379.5,76.1 L380.5,76.1 L381.5,76.2 L382.5,76.3 L383.5,76.6 L384.4,76.9 L385.3,77.3 L386.2,77.7 L387.1,78.2 L387.9,78.8 L388.7,79.3 L389.5,79.9 L390.3,80.6 L391.1,81.2 L391.8,81.9 L392.5,82.6 L393.2,83.3 L393.9,84.0 L394.6,84.7 L395.3,85.5 L395.9,86.2 L396.6,87.0 L397.2,87.8 L397.8,88.6 L398.5,89.3 L399.0,90.1 L399.6,91.0 L400.2,91.8 L400.8,92.6 L401.3,93.5 L401.8,94.3 L402.3,95.2 L402.9,96.0 L403.4,96.9 L403.8,97.8 L404.3,98.6 L404.8,99.5 L405.2,100.4 L405.7,101.3 L406.1,102.2 L406.6,103.1 L407.0,104.0 L407.5,104.9 L407.9,105.8 L408.3,106.7 L408.7,107.6 L409.2,108.5 L409.6,109.4 L410.0,110.3 L410.5,111.2 L410.9,112.1 L411.3,113.0 L411.8,113.9 L412.2,114.8 L412.7,115.7 L413.1,116.6 L413.5,117.5 L414.0,118.4 L414.4,119.3 L414.9,120.2 L415.3,121.1 L415.7,122.0 L416.2,122.9 L416.6,123.8 L417.1,124.7 L417.5,125.6 L417.9,126.5 L418.4,127.3 L418.8,128.2 L419.3,129.1 L419.7,130.1 L420.1,131.0 L420.5,131.9 L421.0,132.8 L421.4,133.7 L421.8,134.6 L422.2,135.5 L422.6,136.4 L423.0,137.3 L423.5,138.2 L423.9,139.1 L424.3,140.0 L424.7,141.0 L425.1,141.9 L425.5,142.8 L425.9,143.7 L426.2,144.6 L426.6,145.5 L427.0,146.5 L427.4,147.4 L427.8,148.3 L428.2,149.2 L428.6,150.2 L429.0,151.1 L429.3,152.0 L429.7,152.9 L430.1,153.9 L430.5,154.8 L430.8,155.7 L431.2,156.6 L431.6,157.6 L432.0,158.5 L432.3,159.4 L432.7,160.3 L433.1,161.3 L433.5,162.2 L433.8,163.1 L434.2,164.1 L434.6,165.0 L434.9,165.9 L435.3,166.8 L435.7,167.8 L436.1,168.7 L436.4,169.6 L436.8,170.5 L437.2,171.5 L437.5,172.4 L437.9,173.3 L438.3,174.3 L438.7,175.2 L439.0,176.1 L439.4,177.0 L439.8,178.0 L440.2,178.9 L440.5,179.8 L440.9,180.7 L441.3,181.7 L441.7,182.6 L442.1,183.5 L442.5,184.4 L442.8,185.4 L443.2,186.3 L443.6,187.2 L444.0,188.1 L444.4,189.0 L444.8,189.9 L445.2,190.9 L445.6,191.8 L446.0,192.7 L446.4,193.6 L446.8,194.5 L447.2,195.4 L447.6,196.3 L448.1,197.3 L448.5,198.2 L448.9,199.1 L449.3,200.0 L449.7,200.9 L450.2,201.8 L450.6,202.7 L451.0,203.6 L451.5,204.5 L451.9,205.4 L452.4,206.3 L452.8,207.2 L453.3,208.0 L453.7,208.9 L454.2,209.8 L454.7,210.7 L455.1,211.6 L455.6,212.5 L456.1,213.4 L456.6,214.2 L457.0,215.1 L457.5,216.0 L458.0,216.8 L458.5,217.7 L459.0,218.6 L459.5,219.4 L460.0,220.3 L460.5,221.2 L461.1,222.0 L461.6,222.9 L462.1,223.7 L462.7,224.5 L463.2,225.4 L463.7,226.2 L464.3,227.1 L464.8,227.9 L465.4,228.7 L466.0,229.5 L466.5,230.4 L467.1,231.2 L467.7,232.0 L468.3,232.8 L468.9,233.6 L469.5,234.4 L470.1,235.2 L470.7,236.0 L471.3,236.8 L471.9,237.6 L472.5,238.4 L473.2,239.1 L473.8,239.9 L474.4,240.7 L475.1,241.4 L475.7,242.2 L476.4,243.0 L477.1,243.7 L477.7,244.4 L478.4,245.2 L479.1,245.9 L479.8,246.6 L480.4,247.4 L481.1,248.1 L481.8,248.8 L482.6,249.5 L483.3,250.2 L484.0,250.9 L484.7,251.6 L485.4,252.3 L486.2,252.9 L486.9,253.6 L487.7,254.3 L488.4,254.9 L489.2,255.5 L490.0,256.2 L490.8,256.8 L491.6,257.4 L492.4,258.0 L493.2,258.5 L494.1,259.1 L494.9,259.6 L495.8,260.1 L496.6,260.6 L497.5,261.1 L498.4,261.5 L499.3,261.9 L500.3,262.3 L501.2,262.6 L502.2,262.9 L503.1,263.2 L504.1,263.4 L505.1,263.6 L506.1,263.7 L507.1,263.8 L508.1,263.9 L509.1,263.9 L510.1,263.9 L511.1,263.8 L512.0,263.7 L513.0,263.6 L514.0,263.4 L515.0,263.2 L516.0,263.0 L516.9,262.8 L517.9,262.5 L518.9,262.2 L519.8,261.8 L520.7,261.5 L521.6,261.1 L522.6,260.7 L523.5,260.2 L524.3,259.8 L525.2,259.3 L526.1,258.8 L526.9,258.2 L527.8,257.7 L528.6,257.1 L529.4,256.5 L530.2,255.9 L531.0,255.3 L531.7,254.7 L532.5,254.0 L533.2,253.3 L533.9,252.6 L534.7,251.9 L535.4,251.2 L536.0,250.5 L536.7,249.8 L537.4,249.0 L538.0,248.3 L538.7,247.5 L539.3,246.7 L540.0,246.0 L540.6,245.2 L541.2,244.4 L541.8,243.6 L542.4,242.8 L543.0,242.0 L543.6,241.2 L544.2,240.4 L544.8,239.6 L545.4,238.8 L545.9,238.0 L546.5,237.2 L547.1,236.3 L547.7,235.5 L548.3,234.7 L548.9,233.9 L549.5,233.1 L550.1,232.3 L550.7,231.5 L551.3,230.7 L551.9,229.9 L552.5,229.1 L553.1,228.3 L553.7,227.5 L554.3,226.7 L554.9,225.9 L555.5,225.1 L556.1,224.3 L556.7,223.5 L557.3,222.7 L557.9,221.9 L558.4,221.1 L559.0,220.3 L559.6,219.5 L560.2,218.7 L560.8,217.9 L561.4,217.1 L562.0,216.2 L562.5,215.4 L563.1,214.6 L563.7,213.8 L564.2,212.9 L564.8,212.1 L565.3,211.3 L565.9,210.4 L566.4,209.6 L567.0,208.8 L567.5,207.9 L568.0,207.1 L568.6,206.2 L569.1,205.4 L569.6,204.5 L570.2,203.7 L570.7,202.9 L571.2,202.0 L571.8,201.2 L572.3,200.3 L572.9,199.5 L573.4,198.7 L574.0,197.8 L574.5,197.0 L575.1,196.2 L575.7,195.4 L576.3,194.6 L576.9,193.8 L577.5,193.0 L578.2,192.2 L578.8,191.5 L579.5,190.8 L580.2,190.1 L580.9,189.4 L581.7,188.7 L582.5,188.1 L583.3,187.5 L584.1,186.9 L584.9,186.3 L585.8,185.8 L586.7,185.4 L587.6,185.0 L588.5,184.6 L589.5,184.3 L590.4,184.2 L591.4,184.1 L592.4,184.1 L593.4,184.1 L594.4,184.3 L595.4,184.6 L596.3,184.9 L597.2,185.3 L598.1,185.7 L599.0,186.2 L599.9,186.7 L600.7,187.3 L601.5,187.9 L602.3,188.5 L603.0,189.2 L603.8,189.9 L604.5,190.6 L605.2,191.3 L605.8,192.0 L606.5,192.8 L607.1,193.6 L607.7,194.4 L608.2,195.2 L608.8,196.1 L609.3,196.9 L609.8,197.8 L610.3,198.7 L610.7,199.5 L611.2,200.4 L611.6,201.3 L612.1,202.2 L612.5,203.2 L612.9,204.1 L613.2,205.0 L613.6,205.9 L614.0,206.9 L614.3,207.8 L614.7,208.7 L615.0,209.7 L615.3,210.6 L615.6,211.6 L616.0,212.5 L616.3,213.5 L616.6,214.4 L616.9,215.4 L617.2,216.3 L617.5,217.3 L617.8,218.2 L618.1,219.2 L618.4,220.1 L618.7,221.1 L619.0,222.0 L619.3,223.0 L619.5,224.0 L619.8,224.9 L620.1,225.9 L620.4,226.8 L620.7,227.8 L620.9,228.8 L621.2,229.7 L621.5,230.7 L621.8,231.6 L622.0,232.6 L622.3,233.6 L622.5,234.5 L622.8,235.5 L623.1,236.5 L623.3,237.4 L623.6,238.4 L623.8,239.4 L624.1,240.3 L624.3,241.3 L624.6,242.3 L624.8,243.2 L625.0,244.2 L625.3,245.2 L625.5,246.1 L625.7,247.1 L626.0,248.1 L626.2,249.1 L626.4,250.0 L626.6,251.0 L626.9,252.0 L627.1,253.0 L627.3,253.9 L627.5,254.9 L627.7,255.9 L628.0,256.9 L628.2,257.8 L628.4,258.8 L628.6,259.8 L628.8,260.8 L629.0,261.7 L629.2,262.7 L629.5,263.7 L629.7,264.7 L629.9,265.7 L630.1,266.6 L630.3,267.6 L630.5,268.6 L630.7,269.6 L630.9,270.5 L631.1,271.5 L631.3,272.5 L631.6,273.5 L631.8,274.4 L632.0,275.4 L632.2,276.4 L632.4,277.4 L632.6,278.4 L632.8,279.3 L633.1,280.3 L633.3,281.3 L633.5,282.3 L633.7,283.2 L633.9,284.2 L634.2,285.2 L634.4,286.2 L634.6,287.1 L634.8,288.1 L635.0,289.1 L635.3,290.0 L635.5,291.0 L635.7,292.0 L635.9,293.0 L636.2,293.9 L636.4,294.9 L636.6,295.9 L636.8,296.9 L637.1,297.8 L637.3,298.8 L637.5,299.8 L637.7,300.8 L637.9,301.7 L638.1,302.7 L638.4,303.7 L638.6,304.7 L638.8,305.6 L639.0,306.6 L639.2,307.6 L639.4,308.6 L639.6,309.6 L639.9,310.5 L640.1,311.5 L640.3,312.5 L640.5,313.5 L640.7,314.4 L640.9,315.4 L641.1,316.4 L641.3,317.4 L641.5,318.4 L641.7,319.3 L641.9,320.3 L642.2,321.3 L642.4,322.2 L642.7,323.2 L642.9,324.2 L643.2,325.1 L643.5,326.1 L643.8,327.0 L644.1,328.0 L644.4,328.9 L644.8,329.9 L645.2,330.8 L645.5,331.7 L645.9,332.6 L646.4,333.5 L646.8,334.4 L647.3,335.3 L647.8,336.2 L648.3,337.0 L648.9,337.9 L649.5,338.7 L650.1,339.5 L650.7,340.2 L651.4,341.0 L652.1,341.7 L652.8,342.4 L653.6,343.0 L654.4,343.6 L655.2,344.2 L656.1,344.6 L657.0,345.1 L657.9,345.4 L658.9,345.7 L659.9,345.9 L660.9,346.0 L661.9,346.0 L662.9,346.0" stroke="#0000ff"/>
<path d="M147.5,346.0 L148.5,346.0 L149.5,346.0 L150.5,345.9 L151.5,345.8 L152.5,345.5 L153.4,345.2 L154.3,344.9 L155.3,344.5 L156.2,344.0 L157.0,343.6 L157.9,343.1 L158.8,342.6 L159.6,342.1 L160.5,341.6 L161.3,341.0 L162.2,340.5 L163.0,340.0 L163.9,339.5 L164.8,339.0 L165.6,338.5 L166.5,338.0 L167.4,337.5 L168.3,337.1 L169.2,336.6 L170.1,336.2 L171.0,335.9 L171.9,335.5 L172.9,335.2 L173.8,334.8 L174.8,334.5 L175.7,334.2 L176.7,334.0 L177.7,333.7 L178.6,333.5 L179.6,333.2 L180.6,333.0 L181.6,332.8 L182.5,332.6 L183.5,332.4 L184.5,332.3 L185.5,332.1 L186.5,332.0 L187.5,331.8 L188.5,331.7 L189.4,331.6 L190.4,331.5 L191.4,331.3 L192.4,331.2 L193.4,331.2 L194.4,331.1 L195.4,331.0 L196.4,330.9 L197.4,330.9 L198.4,330.8 L199.4,330.8 L200.4,330.7 L201.4,330.7 L202.4,330.7 L203.4,330.7 L204.4,330.7 L205.4,330.7 L206.4,330.7 L207.4,330.7 L208.4,330.7 L209.4,330.7 L210.4,330.7 L211.4,330.8 L212.4,330.8 L213.4,330.8 L214.4,330.9 L215.4,330.9 L216.4,331.0 L217.4,331.0 L218.4,331.1 L219.4,331.1 L220.4,331.1 L221.4,331.2 L222.4,331.2 L223.4,331.2 L224.4,331.2 L225.4,331.2 L226.4,331.2 L227.4,331.1 L228.4,331.1 L229.4,331.0 L230.4,330.9 L231.3,330.8 L232.3,330.7 L233.3,330.5 L234.3,330.4 L235.3,330.2 L236.3,330.0 L237.3,329.8 L238.2,329.6 L239.2,329.3 L240.2,329.1 L241.1,328.8 L242.1,328.5 L243.0,328.2 L244.0,327.9 L244.9,327.6 L245.9,327.2 L246.8,326.9 L247.7,326.5 L248.6,326.1 L249.6,325.7 L250.5,325.3 L251.4,324.9 L252.3,324.4 L253.2,324.0 L254.0,323.5 L254.9,323.1 L255.8,322.6 L256.7,322.1 L257.5,321.6 L258.4,321.1 L259.3,320.6 L260.1,320.0 L260.9,319.5 L261.8,319.0 L262.6,318.4 L263.4,317.8 L264.3,317.3 L265.1,316.7 L265.9,316.1 L266.7,315.5 L267.5,314.9 L268.3,314.3 L269.0,313.7 L269.8,313.0 L270.6,312.4 L271.4,311.8 L272.1,311.1 L272.9,310.5 L273.6,309.8 L274.4,309.1 L275.1,308.5 L275.9,307.8 L276.6,307.1 L277.3,306.4 L278.0,305.7 L278.7,305.0 L279.4,304.3 L280.1,303.6 L280.8,302.9 L281.5,302.2 L282.2,301.4 L282.9,300.7 L283.6,300.0 L284.2,299.2 L284.9,298.5 L285.6,297.7 L286.2,297.0 L286.9,296.2 L287.5,295.4 L288.1,294.7 L288.8,293.9 L289.4,293.1 L290.0,292.3 L290.6,291.6 L291.2,290.8 L291.9,290.0 L292.5,289.2 L293.0,288.4 L293.6,287.6 L294.2,286.8 L294.8,286.0 L295.4,285.1 L296.0,284.3 L296.5,283.5 L297.1,282.7 L297.7,281.8 L298.2,281.0 L298.8,280.2 L299.3,279.3 L299.9,278.5 L300.4,277.7 L300.9,276.8 L301.5,276.0 L302.0,275.1 L302.5,274.3 L303.0,273.4 L303.6,272.6 L304.1,271.7 L304.6,270.9 L305.1,270.0 L305.6,269.1 L306.1,268.3 L306.6,267.4 L307.1,266.5 L307.6,265.7 L308.1,264.8 L308.5,263.9 L309.0,263.0 L309.5,262.2 L310.0,261.3 L310.5,260.4 L310.9,259.5 L311.4,258.7 L311.9,257.8 L312.3,256.9 L312.8,256.0 L313.3,255.1 L313.7,254.2 L314.2,253.3 L314.6,252.4 L315.1,251.6 L315.5,250.7 L316.0,249.8 L316.4,248.9 L316.8,248.0 L317.3,247.1 L317.7,246.2 L318.1,245.3 L318.6,244.4 L319.0,243.5 L319.4,242.6 L319.8,241.7 L320.3,240.7 L320.7,239.8 L321.1,238.9 L321.5,238.0 L321.9,237.1 L322.3,236.2 L322.7,235.3 L323.1,234.4 L323.5,233.5 L323.9,232.5 L324.3,231.6 L324.7,230.7 L325.1,229.8 L325.5,228.9 L325.9,228.0 L326.3,227.0 L326.7,226.1 L327.1,225.2 L327.5,224.3 L327.8,223.4 L328.2,222.4 L328.6,221.5 L329.0,220.6 L329.4,219.6 L329.7,218.7 L330.1,217.8 L330.5,216.9 L330.8,215.9 L331.2,215.0 L331.6,214.1 L331.9,213.1 L332.3,212.2 L332.6,211.3 L333.0,210.3 L333.4,209.4 L333.7,208.5 L334.1,207.5 L334.4,206.6 L334.8,205.7 L335.1,204.7 L335.5,203.8 L335.8,202.9 L336.1,201.9 L336.5,201.0 L336.8,200.0 L337.2,199.1 L337.5,198.2 L337.8,197.2 L338.2,196.3 L338.5,195.3 L338.8,194.4 L339.2,193.5 L339.5,192.5 L339.8,191.6 L340.2,190.6 L340.5,189.7 L340.8,188.7 L341.2,187.8 L341.5,186.9 L341.8,185.9 L342.1,185.0 L342.4,184.0 L342.8,183.1 L343.1,182.1 L343.4,181.2 L343.7,180.2 L344.0,179.3 L344.4,178.3 L344.7,177.4 L345.0,176.4 L345.3,175.5 L345.6,174.5 L345.9,173.6 L346.2,172.7 L346.6,171.7 L346.9,170.8 L347.2,169.8 L347.5,168.9 L347.8,167.9 L348.1,167.0 L348.4,166.0 L348.7,165.1 L349.0,164.1 L349.3,163.2 L349.6,162.2 L349.9,161.2 L350.2,160.3 L350.6,159.3 L350.9,158.4 L351.2,157.4 L351.5,156.5 L351.8,155.5 L352.1,154.6 L352.4,153.6 L352.7,152.7 L353.0,151.7 L353.3,150.8 L353.6,149.8 L353.9,148.9 L354.2,147.9 L354.5,147.0 L354.8,146.0 L355.1,145.1 L355.4,144.1 L355.7,143.2 L356.0,142.2 L356.3,141.3 L356.6,140.3 L356.9,139.4 L357.2,138.4 L357.5,137.4 L357.8,136.5 L358.1,135.5 L358.4,134.6 L358.7,133.6 L359.0,132.7 L359.3,131.7 L359.6,130.8 L359.9,129.8 L360.2,128.9 L360.5,127.9 L360.8,127.0 L361.2,126.0 L361.5,125.1 L361.8,124.1 L362.1,123.2 L362.4,122.2 L362.7,121.3 L363.0,120.3 L363.3,119.4 L363.6,118.4 L363.9,117.5 L364.2,116.5 L364.6,115.6 L364.9,114.6 L365.2,113.7 L365.5,112.7 L365.8,111.8 L366.1,110.8 L366.5,109.9 L366.8,108.9 L367.1,108.0 L367.4,107.1 L367.7,106.1 L368.1,105.2 L368.4,104.2 L368.7,103.3 L369.0,102.3 L369.4,101.4 L369.7,100.4 L370.0,99.5 L370.3,98.6 L370.7,97.6 L371.0,96.7 L371.3,95.7 L371.7,94.8 L372.0,93.8 L372.4,92.9 L372.7,92.0 L373.0,91.0 L373.4,90.1 L373.7,89.2 L374.1,88.2 L374.4,87.3 L374.8,86.3 L375.1,85.4 L375.5,84.5 L375.8,83.5 L376.2,82.6 L376.5,81.7 L376.9,80.7 L377.2,79.8 L377.6,78.9 L378.0,77.9 L378.3,77.0 L378.7,76.1 L379.0,75.1 L379.4,74.2 L379.8,73.3 L380.2,72.4 L380.5,71.4 L380.9,70.5 L381.3,69.6 L381.7,68.7 L382.0,67.7 L382.4,66.8 L382.8,65.9 L383.2,65.0 L383.6,64.1 L384.0,63.1 L384.4,62.2 L384.8,61.3 L385.2,60.4 L385.6,59.5 L386.0,58.6 L386.4,57.6 L386.8,56.7 L387.2,55.8 L387.6,54.9 L388.0,54.0 L388.4,53.1 L388.9,52.2 L389.3,51.3 L389.7,50.4 L390.1,49.5 L390.5,48.6 L391.0,47.7 L391.4,46.8 L391.8,45.9 L392.3,45.0 L392.7,44.1 L393.2,43.2 L393.6,42.3 L394.1,41.4 L394.6,40.5 L395.1,39.7 L395.5,38.8 L396.0,37.9 L396.6,37.1 L397.1,36.2 L397.6,35.4 L398.2,34.5 L398.7,33.7 L399.3,32.9 L399.9,32.1 L400.5,31.3 L401.1,30.5 L401.7,29.7 L402.4,29.0 L403.1,28.2 L403.7,27.5 L404.4,26.8 L405.2,26.1 L405.9,25.4 L406.6,24.8 L407.4,24.1 L408.2,23.5 L409.0,22.9 L409.8,22.3 L410.6,21.8 L411.5,21.2 L412.4,20.7 L413.2,20.3 L414.1,19.8 L415.0,19.4 L415.9,19.0 L416.9,18.6 L417.8,18.3 L418.8,18.0 L419.7,17.7 L420.7,17.5 L421.7,17.4 L422.7,17.2 L423.7,17.2 L424.7,17.1 L425.7,17.2 L426.7,17.2 L427.7,17.4 L428.7,17.6 L429.6,17.8 L430.6,18.1 L431.5,18.4 L432.4,18.8 L433.3,19.2 L434.2,19.7 L435.1,20.2 L436.0,20.7 L436.8,21.2 L437.6,21.8 L438.4,22.4 L439.2,23.0 L440.0,23.6 L440.8,24.2 L441.6,24.9 L442.3,25.5 L443.0,26.2 L443.8,26.9 L444.5,27.6 L445.2,28.3 L445.9,29.0 L446.6,29.7 L447.3,30.4 L448.0,31.2 L448.6,31.9 L449.3,32.7 L450.0,33.4 L450.6,34.2 L451.3,34.9 L451.9,35.7 L452.5,36.5 L453.2,37.2 L453.8,38.0 L454.4,38.8 L455.0,39.6 L455.6,40.4 L456.2,41.2 L456.8,42.0 L457.4,42.8 L457.9,43.7 L458.5,44.5 L459.1,45.3 L459.6,46.1 L460.2,47.0 L460.7,47.8 L461.2,48.6 L461.8,49.5 L462.3,50.3 L462.8,51.2 L463.3,52.1 L463.9,52.9 L464.4,53.8 L464.9,54.6 L465.3,55.5 L465.8,56.4 L466.3,57.3 L466.8,58.1 L467.3,59.0 L467.7,59.9 L468.2,60.8 L468.7,61.7 L469.1,62.5 L469.6,63.4 L470.0,64.3 L470.5,65.2 L470.9,66.1 L471.3,67.0 L471.8,67.9 L472.2,68.8 L472.6,69.7 L473.1,70.6 L473.5,71.5 L473.9,72.5 L474.3,73.4 L474.7,74.3 L475.1,75.2 L475.5,76.1 L475.9,77.0 L476.3,77.9 L476.7,78.9 L477.1,79.8 L477.5,80.7 L477.8,81.6 L478.2,82.5 L478.6,83.5 L479.0,84.4 L479.3,85.3 L479.7,86.3 L480.1,87.2 L480.4,88.1 L480.8,89.0 L481.2,90.0 L481.5,90.9 L481.9,91.8 L482.2,92.8 L482.6,93.7 L482.9,94.6 L483.3,95.6 L483.6,96.5 L484.0,97.5 L484.3,98.4 L484.7,99.3 L485.0,100.3 L485.4,101.2 L485.7,102.1 L486.1,103.1 L486.4,104.0 L486.7,105.0 L487.1,105.9 L487.4,106.8 L487.7,107.8 L488.1,108.7 L488.4,109.7 L488.8,110.6 L489.1,111.5 L489.4,112.5 L489.8,113.4 L490.1,114.4 L490.4,115.3 L490.7,116.3 L491.1,117.2 L491.4,118.1 L491.7,119.1 L492.1,120.0 L492.4,121.0 L492.7,121.9 L493.0,122.9 L493.4,123.8 L493.7,124.8 L494.0,125.7 L494.3,126.6 L494.6,127.6 L495.0,128.5 L495.3,129.5 L495.6,130.4 L495.9,131.4 L496.2,132.3 L496.5,133.3 L496.9,134.2 L497.2,135.2 L497.5,136.1 L497.8,137.1 L498.1,138.0 L498.4,139.0 L498.7,139.9 L499.0,140.9 L499.3,141.8 L499.6,142.8 L499.9,143.7 L500.2,144.7 L500.6,145.6 L500.9,146.6 L501.2,147.5 L501.5,148.5 L501.8,149.4 L502.1,150.4 L502.4,151.3 L502.6,152.3 L502.9,153.3 L503.2,154.2 L503.5,155.2 L503.8,156.1 L504.1,157.1 L504.4,158.0 L504.7,159.0 L505.0,159.9 L505.3,160.9 L505.6,161.9 L505.9,162.8 L506.1,163.8 L506.4,164.7 L506.7,165.7 L507.0,166.6 L507.3,167.6 L507.6,168.6 L507.8,169.5 L508.1,170.5 L508.4,171.4 L508.7,172.4 L509.0,173.3 L509.2,174.3 L509.5,175.3 L509.8,176.2 L510.1,177.2 L510.4,178.1 L510.6,179.1 L510.9,180.1 L511.2,181.0 L511.5,182.0 L511.8,182.9 L512.0,183.9 L512.3,184.9 L512.6,185.8 L512.9,186.8 L513.2,187.7 L513.4,188.7 L513.7,189.7 L514.0,190.6 L514.3,191.6 L514.6,192.5 L514.8,193.5 L515.1,194.4 L515.4,195.4 L515.7,196.4 L516.0,197.3 L516.3,198.3 L516.5,199.2 L516.8,200.2 L517.1,201.2 L517.4,202.1 L517.7,203.1 L518.0,204.0 L518.3,205.0 L518.6,205.9 L518.8,206.9 L519.1,207.8 L519.4,208.8 L519.7,209.8 L520.0,210.7 L520.3,211.7 L520.6,212.6 L520.9,213.6 L521.2,214.5 L521.5,215.5 L521.8,216.4 L522.1,217.4 L522.4,218.3 L522.7,219.3 L523.0,220.2 L523.3,221.2 L523.7,222.1 L524.0,223.1 L524.3,224.0 L524.6,225.0 L524.9,225.9 L525.2,226.9 L525.6,227.8 L525.9,228.8 L526.2,229.7 L526.5,230.6 L526.9,231.6 L527.2,232.5 L527.5,233.5 L527.9,234.4 L528.2,235.4 L528.5,236.3 L528.9,237.2 L529.2,238.2 L529.6,239.1 L529.9,240.1 L530.3,241.0 L530.6,241.9 L531.0,242.9 L531.3,243.8 L531.7,244.7 L532.0,245.7 L532.4,246.6 L532.8,247.5 L533.1,248.4 L533.5,249.4 L533.9,250.3 L534.3,251.2 L534.6,252.1 L535.0,253.1 L535.4,254.0 L535.8,254.9 L536.2,255.8 L536.6,256.8 L537.0,257.7 L537.4,258.6 L537.8,259.5 L538.2,260.4 L538.6,261.3 L539.0,262.2 L539.4,263.1 L539.8,264.1 L540.2,265.0 L540.7,265.9 L541.1,266.8 L541.5,267.7 L542.0,268.6 L542.4,269.5 L542.8,270.4 L543.3,271.3 L543.7,272.2 L544.2,273.0 L544.6,273.9 L545.1,274.8 L545.5,275.7 L546.0,276.6 L546.4,277.5 L546.9,278.4 L547.4,279.3 L547.8,280.2 L548.3,281.0 L548.8,281.9 L549.2,282.8 L549.7,283.7 L550.2,284.6 L550.6,285.4 L551.1,286.3 L551.6,287.2 L552.1,288.1 L552.5,289.0 L553.0,289.8 L553.5,290.7 L554.0,291.6 L554.5,292.5 L555.0,293.3 L555.4,294.2 L555.9,295.1 L556.4,296.0 L556.9,296.8 L557.4,297.7 L557.9,298.6 L558.3,299.4 L558.8,300.3 L559.3,301.2 L559.8,302.1 L560.3,302.9 L560.8,303.8 L561.3,304.7 L561.7,305.6 L562.2,306.4 L562.7,307.3 L563.2,308.2 L563.7,309.1 L564.1,309.9 L564.6,310.8 L565.1,311.7 L565.6,312.6 L566.1,313.4 L566.5,314.3 L567.0,315.2 L567.5,316.1 L568.0,317.0 L568.4,317.8 L568.9,318.7 L569.4,319.6 L569.9,320.5 L570.4,321.3 L570.9,322.2 L571.4,323.1 L571.9,323.9 L572.4,324.8 L572.9,325.6 L573.4,326.5 L573.9,327.3 L574.5,328.2 L575.0,329.0 L575.5,329.9 L576.1,330.7 L576.7,331.5 L577.2,332.4 L577.8,333.2 L578.4,334.0 L579.0,334.8 L579.6,335.6 L580.2,336.4 L580.8,337.2 L581.4,337.9 L582.1,338.7 L582.8,339.4 L583.4,340.2 L584.2,340.9 L584.9,341.6 L585.6,342.2 L586.4,342.8 L587.2,343.4 L588.1,343.9 L588.9,344.4 L589.8,344.9 L590.8,345.2 L591.7,345.6 L592.7,345.8 L593.7,346.0 L594.7,346.0 L595.7,346.0 L596.7,346.0" stroke="#00ff00"/>
<path d="M135.0,346.0 L136.0,346.0 L137.0,346.0 L138.0,345.9 L139.0,345.8 L140.0,345.8 L141.0,345.7 L142.0,345.7 L143.0,345.6 L144.0,345.5 L145.0,345.5 L146.0,345.4 L147.0,345.3 L148.0,345.2 L149.0,345.2 L150.0,345.1 L151.0,345.0 L152.0,344.9 L153.0,344.8 L154.0,344.8 L154.9,344.7 L155.9,344.6 L156.9,344.5 L157.9,344.4 L158.9,344.3 L159.9,344.2 L160.9,344.1 L161.9,344.1 L162.9,344.0 L163.9,343.9 L164.9,343.8 L165.9,343.7 L166.9,343.6 L167.9,343.5 L168.9,343.4 L169.9,343.3 L170.9,343.2 L171.9,343.1 L172.9,343.0 L173.9,342.9 L174.8,342.8 L175.8,342.7 L176.8,342.6 L177.8,342.5 L178.8,342.4 L179.8,342.3 L180.8,342.2 L181.8,342.1 L182.8,342.0 L183.8,341.9 L184.8,341.8 L185.8,341.6 L186.8,341.5 L187.8,341.4 L188.8,341.3 L189.8,341.2 L190.8,341.1 L191.7,341.0 L192.7,340.9 L193.7,340.8 L194.7,340.6 L195.7,340.5 L196.7,340.4 L197.7,340.2 L198.7,340.1 L199.7,339.9 L200.7,339.8 L201.6,339.6 L202.6,339.4 L203.6,339.2 L204.6,339.0 L205.6,338.8 L206.5,338.5 L207.5,338.3 L208.5,338.0 L209.4,337.7 L210.4,337.5 L211.3,337.2 L212.3,336.8 L213.2,336.5 L214.2,336.2 L215.1,335.8 L216.0,335.4 L216.9,335.1 L217.9,334.7 L218.8,334.3 L219.7,333.8 L220.6,333.4 L221.5,333.0 L222.4,332.5 L223.3,332.1 L224.2,331.6 L225.0,331.1 L225.9,330.6 L226.8,330.1 L227.6,329.6 L228.5,329.1 L229.4,328.6 L230.2,328.1 L231.0,327.5 L231.9,327.0 L232.7,326.5 L233.6,325.9 L234.4,325.3 L235.2,324.8 L236.0,324.2 L236.9,323.6 L237.7,323.1 L238.5,322.5 L239.3,321.9 L240.1,321.3 L240.9,320.7 L241.7,320.1 L242.5,319.5 L243.3,318.9 L244.1,318.3 L244.9,317.7 L245.6,317.0 L246.4,316.4 L247.2,315.8 L248.0,315.2 L248.8,314.6 L249.6,313.9 L250.3,313.3 L251.1,312.7 L251.9,312.1 L252.7,311.4 L253.5,310.8 L254.2,310.2 L255.0,309.6 L255.8,308.9 L256.6,308.3 L257.3,307.7 L258.1,307.0 L258.9,306.4 L259.7,305.7 L260.4,305.1 L261.2,304.5 L262.0,303.8 L262.7,303.2 L263.5,302.5 L264.2,301.9 L265.0,301.2 L265.8,300.6 L266.5,299.9 L267.3,299.3 L268.0,298.6 L268.8,297.9 L269.5,297.3 L270.3,296.6 L271.0,295.9 L271.7,295.3 L272.5,294.6 L273.2,293.9 L273.9,293.2 L274.7,292.6 L275.4,291.9 L276.1,291.2 L276.9,290.5 L277.6,289.8 L278.3,289.1 L279.0,288.4 L279.7,287.7 L280.4,287.0 L281.2,286.3 L281.9,285.6 L282.6,284.9 L283.3,284.2 L284.0,283.5 L284.7,282.8 L285.4,282.0 L286.1,281.3 L286.7,280.6 L287.4,279.9 L288.1,279.1 L288.8,278.4 L289.5,277.7 L290.1,276.9 L290.8,276.2 L291.5,275.5 L292.2,274.7 L292.8,274.0 L293.5,273.2 L294.1,272.5 L294.8,271.7 L295.5,271.0 L296.1,270.2 L296.8,269.4 L297.4,268.7 L298.0,267.9 L298.7,267.1 L299.3,266.4 L300.0,265.6 L300.6,264.8 L301.2,264.1 L301.8,263.3 L302.5,262.5 L303.1,261.7 L303.7,260.9 L304.3,260.1 L304.9,259.3 L305.5,258.5 L306.1,257.7 L306.7,256.9 L307.3,256.1 L307.9,255.3 L308.5,254.5 L309.1,253.7 L309.7,252.9 L310.3,252.1 L310.8,251.3 L311.4,250.5 L312.0,249.6 L312.6,248.8 L313.1,248.0 L313.7,247.2 L314.2,246.3 L314.8,245.5 L315.3,244.7 L315.9,243.8 L316.4,243.0 L317.0,242.2 L317.5,241.3 L318.0,240.5 L318.6,239.6 L319.1,238.8 L319.6,237.9 L320.2,237.1 L320.7,236.2 L321.2,235.4 L321.7,234.5 L322.2,233.6 L322.7,232.8 L323.2,231.9 L323.7,231.1 L324.2,230.2 L324.7,229.3 L325.2,228.5 L325.7,227.6 L326.2,226.7 L326.7,225.8 L327.2,225.0 L327.6,224.1 L328.1,223.2 L328.6,222.3 L329.1,221.4 L329.5,220.6 L330.0,219.7 L330.5,218.8 L330.9,217.9 L331.4,217.0 L331.9,216.1 L332.3,215.2 L332.8,214.4 L333.2,213.5 L333.7,212.6 L334.1,211.7 L334.6,210.8 L335.0,209.9 L335.5,209.0 L335.9,208.1 L336.3,207.2 L336.8,206.3 L337.2,205.4 L337.6,204.5 L338.1,203.6 L338.5,202.7 L338.9,201.8 L339.3,200.9 L339.8,200.0 L340.2,199.1 L340.6,198.2 L341.0,197.3 L341.4,196.3 L341.9,195.4 L342.3,194.5 L342.7,193.6 L343.1,192.7 L343.5,191.8 L343.9,190.9 L344.3,190.0 L344.7,189.1 L345.1,188.1 L345.5,187.2 L346.0,186.3 L346.4,185.4 L346.8,184.5 L347.2,183.6 L347.6,182.7 L348.0,181.7 L348.4,180.8 L348.8,179.9 L349.1,179.0 L349.5,178.1 L349.9,177.2 L350.3,176.2 L350.7,175.3 L351.1,174.4 L351.5,173.5 L351.9,172.6 L352.3,171.6 L352.7,170.7 L353.1,169.8 L353.5,168.9 L353.9,168.0 L354.2,167.0 L354.6,166.1 L355.0,165.2 L355.4,164.3 L355.8,163.3 L356.2,162.4 L356.6,161.5 L357.0,160.6 L357.4,159.7 L357.7,158.7 L358.1,157.8 L358.5,156.9 L358.9,156.0 L359.3,155.1 L359.7,154.1 L360.1,153.2 L360.5,152.3 L360.8,151.4 L361.2,150.5 L361.6,149.5 L362.0,148.6 L362.4,147.7 L362.8,146.8 L363.2,145.9 L363.6,144.9 L364.0,144.0 L364.4,143.1 L364.8,142.2 L365.2,141.3 L365.6,140.3 L366.0,139.4 L366.4,138.5 L366.8,137.6 L367.2,136.7 L367.6,135.8 L368.0,134.8 L368.4,133.9 L368.8,133.0 L369.2,132.1 L369.6,131.2 L370.0,130.3 L370.4,129.4 L370.8,128.5 L371.2,127.5 L371.6,126.6 L372.0,125.7 L372.4,124.8 L372.9,123.9 L373.3,123.0 L373.7,122.1 L374.1,121.2 L374.5,120.3 L374.9,119.4 L375.4,118.4 L375.8,117.5 L376.2,116.6 L376.6,115.7 L377.1,114.8 L377.5,113.9 L377.9,113.0 L378.3,112.1 L378.8,111.2 L379.2,110.3 L379.6,109.4 L380.1,108.5 L380.5,107.6 L380.9,106.7 L381.4,105.8 L381.8,104.9 L382.2,104.0 L382.7,103.1 L383.1,102.2 L383.6,101.3 L384.0,100.4 L384.5,99.5 L384.9,98.6 L385.3,97.7 L385.8,96.8 L386.2,96.0 L386.7,95.1 L387.1,94.2 L387.6,93.3 L388.1,92.4 L388.5,91.5 L389.0,90.6 L389.4,89.7 L389.9,88.8 L390.3,87.9 L390.8,87.1 L391.3,86.2 L391.7,85.3 L392.2,84.4 L392.7,83.5 L393.1,82.6 L393.6,81.8 L394.1,80.9 L394.6,80.0 L395.0,79.1 L395.5,78.2 L396.0,77.4 L396.5,76.5 L397.0,75.6 L397.5,74.8 L398.0,73.9 L398.5,73.0 L399.0,72.2 L399.5,71.3 L400.0,70.4 L400.5,69.6 L401.0,68.7 L401.5,67.9 L402.1,67.0 L402.6,66.2 L403.1,65.3 L403.7,64.5 L404.2,63.7 L404.8,62.8 L405.3,62.0 L405.9,61.2 L406.5,60.4 L407.1,59.5 L407.6,58.7 L408.2,57.9 L408.8,57.1 L409.4,56.3 L410.0,55.5 L410.7,54.7 L411.3,54.0 L411.9,53.2 L412.5,52.4 L413.2,51.6 L413.8,50.9 L414.5,50.1 L415.2,49.4 L415.8,48.6 L416.5,47.9 L417.2,47.2 L417.9,46.5 L418.6,45.8 L419.3,45.1 L420.0,44.4 L420.8,43.7 L421.5,43.0 L422.2,42.3 L423.0,41.7 L423.7,41.0 L424.5,40.4 L425.3,39.7 L426.0,39.1 L426.8,38.5 L427.6,37.9 L428.4,37.3 L429.2,36.7 L430.1,36.1 L430.9,35.6 L431.7,35.0 L432.6,34.5 L433.4,34.0 L434.3,33.5 L435.2,33.0 L436.1,32.6 L437.0,32.2 L437.9,31.8 L438.8,31.4 L439.8,31.1 L440.7,30.8 L441.7,30.5 L442.7,30.3 L443.7,30.1 L444.7,30.0 L445.7,29.9 L446.7,29.9 L447.7,29.9 L448.6,30.0 L449.6,30.2 L450.6,30.4 L451.6,30.7 L452.5,31.0 L453.5,31.4 L454.4,31.8 L455.3,32.2 L456.1,32.7 L457.0,33.2 L457.8,33.8 L458.6,34.3 L459.4,34.9 L460.2,35.6 L461.0,36.2 L461.7,36.9 L462.5,37.6 L463.2,38.3 L463.9,39.0 L464.5,39.7 L465.2,40.5 L465.8,41.2 L466.4,42.0 L467.0,42.8 L467.6,43.6 L468.2,44.5 L468.8,45.3 L469.3,46.1 L469.8,47.0 L470.3,47.9 L470.8,48.7 L471.3,49.6 L471.7,50.5 L472.2,51.4 L472.6,52.3 L473.0,53.2 L473.4,54.1 L473.8,55.0 L474.2,56.0 L474.6,56.9 L475.0,57.8 L475.3,58.7 L475.7,59.7 L476.1,60.6 L476.4,61.5 L476.8,62.5 L477.1,63.4 L477.4,64.3 L477.8,65.3 L478.1,66.2 L478.5,67.2 L478.8,68.1 L479.2,69.0 L479.5,70.0 L479.9,70.9 L480.2,71.9 L480.6,72.8 L480.9,73.7 L481.3,74.7 L481.6,75.6 L482.0,76.5 L482.4,77.5 L482.7,78.4 L483.1,79.3 L483.4,80.3 L483.8,81.2 L484.2,82.1 L484.5,83.1 L484.9,84.0 L485.2,84.9 L485.6,85.9 L485.9,86.8 L486.3,87.7 L486.6,88.7 L487.0,89.6 L487.3,90.5 L487.6,91.5 L488.0,92.4 L488.3,93.4 L488.6,94.3 L489.0,95.3 L489.3,96.2 L489.6,97.1 L489.9,98.1 L490.2,99.0 L490.6,100.0 L490.9,100.9 L491.2,101.9 L491.5,102.8 L491.8,103.8 L492.1,104.8 L492.4,105.7 L492.7,106.7 L493.0,107.6 L493.3,108.6 L493.6,109.5 L493.8,110.5 L494.1,111.4 L494.4,112.4 L494.7,113.4 L495.0,114.3 L495.3,115.3 L495.5,116.2 L495.8,117.2 L496.1,118.2 L496.4,119.1 L496.6,120.1 L496.9,121.0 L497.2,122.0 L497.5,123.0 L497.7,123.9 L498.0,124.9 L498.3,125.9 L498.6,126.8 L498.8,127.8 L499.1,128.7 L499.4,129.7 L499.7,130.7 L499.9,131.6 L500.2,132.6 L500.5,133.5 L500.7,134.5 L501.0,135.5 L501.3,136.4 L501.6,137.4 L501.8,138.4 L502.1,139.3 L502.4,140.3 L502.7,141.2 L502.9,142.2 L503.2,143.2 L503.5,144.1 L503.8,145.1 L504.1,146.0 L504.4,147.0 L504.7,147.9 L504.9,148.9 L505.2,149.9 L505.5,150.8 L505.8,151.8 L506.1,152.7 L506.4,153.7 L506.7,154.6 L507.0,155.6 L507.3,156.5 L507.6,157.5 L507.9,158.4 L508.2,159.4 L508.5,160.3 L508.8,161.3 L509.1,162.2 L509.5,163.2 L509.8,164.1 L510.1,165.1 L510.4,166.1 L510.7,167.0 L511.0,168.0 L511.3,168.9 L511.6,169.9 L511.9,170.8 L512.2,171.8 L512.5,172.7 L512.8,173.7 L513.1,174.6 L513.4,175.6 L513.7,176.5 L514.0,177.5 L514.3,178.4 L514.6,179.4 L514.9,180.3 L515.2,181.3 L515.5,182.2 L515.8,183.2 L516.1,184.2 L516.4,185.1 L516.7,186.1 L517.0,187.0 L517.2,188.0 L517.5,189.0 L517.8,189.9 L518.1,190.9 L518.3,191.8 L518.6,192.8 L518.9,193.8 L519.1,194.7 L519.4,195.7 L519.6,196.7 L519.9,197.6 L520.1,198.6 L520.4,199.6 L520.6,200.5 L520.8,201.5 L521.1,202.5 L521.3,203.5 L521.5,204.4 L521.7,205.4 L522.0,206.4 L522.2,207.4 L522.4,208.3 L522.6,209.3 L522.8,210.3 L523.0,211.3 L523.2,212.3 L523.3,213.2 L523.5,214.2 L523.7,215.2 L523.9,216.2 L524.1,217.2 L524.3,218.2 L524.4,219.1 L524.6,220.1 L524.8,221.1 L525.0,222.1 L525.1,223.1 L525.3,224.1 L525.5,225.0 L525.7,226.0 L525.8,227.0 L526.0,228.0 L526.2,229.0 L526.4,230.0 L526.6,230.9 L526.7,231.9 L526.9,232.9 L527.1,233.9 L527.3,234.9 L527.5,235.9 L527.7,236.8 L527.9,237.8 L528.1,238.8 L528.3,239.8 L528.5,240.8 L528.7,241.7 L528.9,242.7 L529.1,243.7 L529.3,244.7 L529.6,245.6 L529.8,246.6 L530.0,247.6 L530.3,248.5 L530.5,249.5 L530.8,250.5 L531.0,251.5 L531.3,252.4 L531.6,253.4 L531.9,254.3 L532.1,255.3 L532.4,256.2 L532.7,257.2 L533.0,258.2 L533.4,259.1 L533.7,260.0 L534.0,261.0 L534.3,261.9 L534.7,262.9 L535.0,263.8 L535.4,264.7 L535.8,265.7 L536.1,266.6 L536.5,267.5 L536.9,268.4 L537.3,269.4 L537.7,270.3 L538.1,271.2 L538.5,272.1 L538.9,273.0 L539.3,273.9 L539.8,274.8 L540.2,275.7 L540.6,276.6 L541.1,277.5 L541.5,278.4 L542.0,279.3 L542.4,280.2 L542.9,281.1 L543.3,282.0 L543.8,282.9 L544.3,283.7 L544.8,284.6 L545.2,285.5 L545.7,286.4 L546.2,287.2 L546.7,288.1 L547.2,289.0 L547.7,289.8 L548.2,290.7 L548.7,291.6 L549.2,292.4 L549.8,293.3 L550.3,294.1 L550.8,295.0 L551.3,295.8 L551.9,296.7 L552.4,297.5 L552.9,298.4 L553.5,299.2 L554.0,300.1 L554.5,300.9 L555.1,301.7 L555.6,302.6 L556.2,303.4 L556.7,304.2 L557.3,305.1 L557.8,305.9 L558.4,306.7 L559.0,307.6 L559.5,308.4 L560.1,309.2 L560.7,310.0 L561.3,310.8 L561.9,311.6 L562.6,312.4 L563.2,313.1 L563.9,313.9 L564.5,314.6 L565.2,315.3 L566.0,316.0 L566.7,316.7 L567.5,317.3 L568.3,317.9 L569.1,318.5 L569.9,319.1 L570.7,319.7 L571.5,320.2 L572.4,320.7 L573.3,321.2 L574.2,321.7 L575.1,322.1 L576.0,322.5 L576.9,323.0 L577.8,323.3 L578.7,323.7 L579.6,324.1 L580.6,324.5 L581.5,324.8 L582.4,325.2 L583.4,325.5 L584.3,325.9 L585.3,326.2 L586.2,326.5 L587.1,326.9 L588.1,327.2 L589.0,327.6 L590.0,327.9 L590.9,328.3 L591.8,328.7 L592.7,329.1 L593.7,329.4 L594.6,329.9 L595.5,330.3 L596.4,330.7 L597.3,331.2 L598.1,331.6 L599.0,332.1 L599.9,332.6 L600.8,333.1 L601.6,333.6 L602.5,334.1 L603.3,334.6 L604.2,335.2 L605.0,335.7 L605.9,336.2 L606.7,336.7 L607.6,337.3 L608.4,337.8 L609.3,338.3 L610.1,338.8 L611.0,339.4 L611.9,339.9 L612.7,340.4 L613.6,340.8 L614.5,341.3 L615.4,341.8 L616.3,342.2 L617.2,342.7 L618.1,343.1 L619.0,343.5 L619.9,343.8 L620.9,344.2 L621.8,344.5 L622.8,344.8 L623.7,345.1 L624.7,345.3 L625.7,345.5 L626.7,345.7 L627.6,345.8 L628.6,345.9 L629.6,346.0 L630.6,346.0 L631.6,346.0" stroke="#ff0000"/>
<path d="M81.5,347.7l1.4,-3.5l1.4,3.5M90.2,347.7l1.4,-3.5l1.4,3.5M98.9,347.7l1.4,-3.5l1.4,3.5M107.5,347.7l1.4,-3.5l1.4,3.5M116.2,347.7l1.4,-3.5l1.4,3.5M124.9,347.7l1.4,-3.5l1.4,3.5M133.6,347.7l1.4,-3.5l1.4,3.5M142.2,347.3l1.4,-3.5l1.4,3.5M150.9,346.6l1.4,-3.5l1.4,3.5M159.6,345.8l1.4,-3.5l1.4,3.5M168.3,345.0l1.4,-3.5l1.4,3.5M176.9,344.1l1.4,-3.5l1.4,3.5M185.6,343.2l1.4,-3.5l1.4,3.5M194.3,342.2l1.4,-3.5l1.4,3.5M203.0,340.7l1.4,-3.5l1.4,3.5M211.6,338.3l1.4,-3.5l1.4,3.5M220.3,334.6l1.4,-3.5l1.4,3.5M229.0,329.7l1.4,-3.5l1.4,3.5M237.7,323.7l1.4,-3.5l1.4,3.5M246.3,317.1l1.4,-3.5l1.4,3.5M255.0,310.1l1.4,-3.5l1.4,3.5M263.7,302.8l1.4,-3.5l1.4,3.5M272.4,295.1l1.4,-3.5l1.4,3.5M281.0,286.7l1.4,-3.5l1.4,3.5M289.7,277.6l1.4,-3.5l1.4,3.5M298.4,267.5l1.4,-3.5l1.4,3.5M307.1,256.3l1.4,-3.5l1.4,3.5M315.8,243.6l1.4,-3.5l1.4,3.5M324.4,229.1l1.4,-3.5l1.4,3.5M333.1,212.6l1.4,-3.5l1.4,3.5M341.8,194.2l1.4,-3.5l1.4,3.5M350.5,174.4l1.4,-3.5l1.4,3.5M359.1,153.8l1.4,-3.5l1.4,3.5M367.8,133.7l1.4,-3.5l1.4,3.5M376.5,114.8l1.4,-3.5l1.4,3.5M385.2,97.0l1.4,-3.5l1.4,3.5M393.8,80.5l1.4,-3.5l1.4,3.5M402.5,65.9l1.4,-3.5l1.4,3.5M411.2,54.1l1.4,-3.5l1.4,3.5M419.9,44.9l1.4,-3.5l1.4,3.5M428.5,37.9l1.4,-3.5l1.4,3.5M437.2,33.2l1.4,-3.5l1.4,3.5M445.9,31.6l1.4,-3.5l1.4,3.5M454.6,34.3l1.4,-3.5l1.4,3.5M463.2,41.6l1.4,-3.5l1.4,3.5M471.9,55.6l1.4,-3.5l1.4,3.5M480.6,78.2l1.4,-3.5l1.4,3.5M489.3,102.0l1.4,-3.5l1.4,3.5M497.9,131.3l1.4,-3.5l1.4,3.5M506.6,160.5l1.4,-3.5l1.4,3.5M515.3,187.8l1.4,-3.5l1.4,3.5M524.0,226.1l1.4,-3.5l1.4,3.5M532.7,262.8l1.4,-3.5l1.4,3.5M541.3,282.5l1.4,-3.5l1.4,3.5M550.0,297.7l1.4,-3.5l1.4,3.5M558.7,310.8l1.4,-3.5l1.4,3.5M567.4,320.0l1.4,-3.5l1.4,3.5M576.0,324.9l1.4,-3.5l1.4,3.5M584.7,328.2l1.4,-3.5l1.4,3.5M593.4,331.7l1.4,-3.5l1.4,3.5M602.1,336.4l1.4,-3.5l1.4,3.5M610.7,341.7l1.4,-3.5l1.4,3.5M619.4,345.9l1.4,-3.5l1.4,3.5M628.1,347.7l1.4,-3.5l1.4,3.5M636.8,347.7l1.4,-3.5l1.4,3.5M645.4,347.7l1.4,-3.5l1.4,3.5M654.1,347.7l1.4,-3.5l1.4,3.5M662.8,347.7l1.4,-3.5l1.4,3.5M671.5,347.7l1.4,-3.5l1.4,3.5M680.1,347.7l1.4,-3.5l1.4,3.5" stroke="#b8f098" stroke-width="0.75" stroke-linecap="butt" stroke-linejoin="miter"/>
<path d="M79.0,346.0 L150.5,346.0 L151.5,346.0 L152.5,346.0 L153.5,346.0 L154.5,345.9 L155.5,345.7 L156.4,345.5 L157.4,345.3 L158.4,345.0 L159.3,344.7 L160.2,344.3 L161.1,343.9 L162.1,343.5 L163.0,343.0 L163.8,342.6 L164.7,342.1 L165.6,341.6 L166.5,341.1 L167.3,340.6 L168.2,340.1 L169.1,339.6 L169.9,339.1 L170.8,338.6 L171.7,338.2 L172.5,337.7 L173.4,337.2 L174.3,336.7 L175.2,336.3 L176.1,335.8 L177.0,335.4 L177.9,335.0 L178.8,334.6 L179.7,334.2 L180.6,333.8 L181.6,333.4 L182.5,333.0 L183.4,332.7 L184.4,332.3 L185.3,332.0 L186.3,331.7 L187.2,331.4 L188.2,331.1 L189.1,330.8 L190.1,330.6 L191.1,330.3 L192.0,330.1 L193.0,329.9 L194.0,329.7 L195.0,329.5 L196.0,329.3 L196.9,329.2 L197.9,329.0 L198.9,328.9 L199.9,328.7 L200.9,328.6 L201.9,328.5 L202.9,328.4 L203.9,328.3 L204.9,328.2 L205.9,328.1 L206.9,328.0 L207.9,327.9 L208.9,327.8 L209.9,327.8 L210.8,327.7 L211.8,327.6 L212.8,327.6 L213.8,327.5 L214.8,327.4 L215.8,327.4 L216.8,327.3 L217.8,327.2 L218.8,327.1 L219.8,327.1 L220.8,327.0 L221.8,326.9 L222.8,326.8 L223.8,326.7 L224.8,326.6 L225.8,326.5 L226.8,326.4 L227.8,326.3 L228.8,326.2 L229.8,326.0 L230.7,325.9 L231.7,325.7 L232.7,325.6 L233.7,325.4 L234.7,325.2 L235.7,325.0 L236.6,324.8 L237.6,324.6 L238.6,324.4 L239.6,324.1 L240.5,323.9 L241.5,323.6 L242.4,323.3 L243.4,323.0 L244.4,322.7 L245.3,322.4 L246.3,322.1 L247.2,321.8 L248.1,321.4 L249.1,321.1 L250.0,320.7 L250.9,320.3 L251.8,319.9 L252.7,319.5 L253.6,319.1 L254.5,318.6 L255.4,318.2 L256.3,317.7 L257.2,317.3 L258.1,316.8 L258.9,316.3 L259.8,315.8 L260.6,315.2 L261.5,314.7 L262.3,314.2 L263.2,313.6 L264.0,313.0 L264.8,312.4 L265.6,311.9 L266.4,311.3 L267.2,310.6 L268.0,310.0 L268.7,309.4 L269.5,308.8 L270.3,308.1 L271.0,307.4 L271.8,306.8 L272.5,306.1 L273.2,305.4 L274.0,304.7 L274.7,304.0 L275.4,303.3 L276.1,302.6 L276.8,301.9 L277.4,301.1 L278.1,300.4 L278.8,299.7 L279.4,298.9 L280.1,298.1 L280.7,297.4 L281.3,296.6 L282.0,295.8 L282.6,295.0 L283.2,294.2 L283.8,293.4 L284.4,292.6 L284.9,291.8 L285.5,291.0 L286.1,290.2 L286.6,289.3 L287.2,288.5 L287.7,287.7 L288.3,286.8 L288.8,286.0 L289.3,285.1 L289.8,284.3 L290.4,283.4 L290.9,282.5 L291.3,281.7 L291.8,280.8 L292.3,279.9 L292.8,279.1 L293.3,278.2 L293.7,277.3 L294.2,276.4 L294.6,275.5 L295.1,274.6 L295.5,273.7 L295.9,272.8 L296.4,271.9 L296.8,271.0 L297.2,270.1 L297.6,269.2 L298.0,268.3 L298.4,267.4 L298.8,266.4 L299.2,265.5 L299.6,264.6 L300.0,263.7 L300.4,262.8 L300.8,261.8 L301.1,260.9 L301.5,260.0 L301.9,259.1 L302.3,258.1 L302.6,257.2 L303.0,256.3 L303.3,255.3 L303.7,254.4 L304.0,253.5 L304.4,252.5 L304.7,251.6 L305.1,250.6 L305.4,249.7 L305.8,248.8 L306.1,247.8 L306.4,246.9 L306.8,245.9 L307.1,245.0 L307.4,244.1 L307.8,243.1 L308.1,242.2 L308.4,241.2 L308.7,240.3 L309.1,239.3 L309.4,238.4 L309.7,237.4 L310.0,236.5 L310.3,235.6 L310.7,234.6 L311.0,233.7 L311.3,232.7 L311.6,231.8 L311.9,230.8 L312.2,229.9 L312.5,228.9 L312.8,228.0 L313.2,227.0 L313.5,226.1 L313.8,225.1 L314.1,224.2 L314.4,223.2 L314.7,222.3 L315.0,221.3 L315.3,220.4 L315.6,219.4 L315.9,218.4 L316.2,217.5 L316.5,216.5 L316.8,215.6 L317.1,214.6 L317.3,213.7 L317.6,212.7 L317.9,211.8 L318.2,210.8 L318.5,209.8 L318.8,208.9 L319.1,207.9 L319.4,207.0 L319.6,206.0 L319.9,205.1 L320.2,204.1 L320.5,203.1 L320.8,202.2 L321.0,201.2 L321.3,200.3 L321.6,199.3 L321.9,198.3 L322.1,197.4 L322.4,196.4 L322.7,195.5 L323.0,194.5 L323.2,193.5 L323.5,192.6 L323.8,191.6 L324.1,190.6 L324.3,189.7 L324.6,188.7 L324.9,187.8 L325.1,186.8 L325.4,185.8 L325.7,184.9 L325.9,183.9 L326.2,182.9 L326.4,182.0 L326.7,181.0 L327.0,180.1 L327.2,179.1 L327.5,178.1 L327.7,177.2 L328.0,176.2 L328.3,175.2 L328.5,174.3 L328.8,173.3 L329.0,172.3 L329.3,171.4 L329.5,170.4 L329.8,169.4 L330.1,168.5 L330.3,167.5 L330.6,166.5 L330.8,165.6 L331.1,164.6 L331.3,163.6 L331.6,162.7 L331.8,161.7 L332.1,160.7 L332.3,159.8 L332.6,158.8 L332.8,157.8 L333.1,156.9 L333.3,155.9 L333.6,154.9 L333.8,154.0 L334.1,153.0 L334.3,152.0 L334.6,151.1 L334.8,150.1 L335.1,149.1 L335.3,148.2 L335.5,147.2 L335.8,146.2 L336.0,145.2 L336.3,144.3 L336.5,143.3 L336.8,142.3 L337.0,141.4 L337.3,140.4 L337.5,139.4 L337.7,138.5 L338.0,137.5 L338.2,136.5 L338.5,135.6 L338.7,134.6 L339.0,133.6 L339.2,132.7 L339.5,131.7 L339.7,130.7 L339.9,129.7 L340.2,128.8 L340.4,127.8 L340.7,126.8 L340.9,125.9 L341.2,124.9 L341.4,123.9 L341.7,123.0 L341.9,122.0 L342.1,121.0 L342.4,120.1 L342.6,119.1 L342.9,118.1 L343.1,117.2 L343.4,116.2 L343.6,115.2 L343.9,114.2 L344.1,113.3 L344.4,112.3 L344.6,111.3 L344.9,110.4 L345.1,109.4 L345.4,108.4 L345.6,107.5 L345.9,106.5 L346.1,105.5 L346.4,104.6 L346.7,103.6 L346.9,102.7 L347.2,101.7 L347.4,100.7 L347.7,99.8 L348.0,98.8 L348.2,97.8 L348.5,96.9 L348.8,95.9 L349.0,94.9 L349.3,94.0 L349.6,93.0 L349.8,92.1 L350.1,91.1 L350.4,90.1 L350.7,89.2 L350.9,88.2 L351.2,87.3 L351.5,86.3 L351.8,85.3 L352.1,84.4 L352.3,83.4 L352.6,82.5 L352.9,81.5 L353.2,80.6 L353.5,79.6 L353.8,78.6 L354.1,77.7 L354.4,76.7 L354.7,75.8 L355.0,74.8 L355.3,73.9 L355.6,72.9 L355.9,72.0 L356.2,71.0 L356.5,70.1 L356.9,69.1 L357.2,68.2 L357.5,67.2 L357.8,66.3 L358.1,65.3 L358.5,64.4 L358.8,63.5 L359.1,62.5 L359.4,61.6 L359.8,60.6 L360.1,59.7 L360.4,58.7 L360.8,57.8 L361.1,56.9 L361.5,55.9 L361.8,55.0 L362.1,54.0 L362.5,53.1 L362.8,52.2 L363.2,51.2 L363.5,50.3 L363.9,49.4 L364.2,48.4 L364.6,47.5 L364.9,46.5 L365.3,45.6 L365.6,44.7 L366.0,43.8 L366.4,42.8 L366.8,41.9 L367.2,41.0 L367.6,40.1 L368.1,39.2 L368.6,38.3 L369.0,37.5 L369.6,36.6 L370.1,35.8 L370.7,35.0 L371.3,34.2 L372.0,33.4 L372.7,32.7 L373.4,32.0 L374.2,31.4 L375.0,30.8 L375.9,30.3 L376.8,29.9 L377.7,29.5 L378.6,29.2 L379.6,28.9 L380.6,28.8 L381.6,28.7 L382.6,28.6 L383.6,28.6 L384.6,28.7 L385.5,28.9 L386.5,29.1 L387.5,29.5 L388.4,29.8 L389.3,30.3 L390.1,30.8 L390.9,31.4 L391.7,32.0 L392.5,32.7 L393.2,33.4 L393.9,34.1 L394.6,34.8 L395.2,35.6 L395.8,36.4 L396.4,37.2 L397.0,38.0 L397.6,38.8 L398.2,39.6 L398.8,40.4 L399.3,41.3 L399.8,42.1 L400.4,43.0 L400.9,43.8 L401.4,44.7 L401.9,45.6 L402.3,46.4 L402.8,47.3 L403.3,48.2 L403.7,49.1 L404.2,50.0 L404.6,50.9 L405.0,51.8 L405.5,52.7 L405.9,53.6 L406.3,54.5 L406.7,55.4 L407.1,56.3 L407.6,57.2 L408.0,58.1 L408.4,59.0 L408.8,59.9 L409.2,60.9 L409.6,61.8 L410.0,62.7 L410.5,63.6 L410.9,64.5 L411.3,65.4 L411.8,66.3 L412.2,67.2 L412.6,68.1 L413.1,69.0 L413.5,69.9 L414.0,70.7 L414.5,71.6 L414.9,72.5 L415.4,73.4 L415.9,74.3 L416.3,75.2 L416.8,76.0 L417.3,76.9 L417.8,77.8 L418.3,78.7 L418.8,79.5 L419.3,80.4 L419.7,81.3 L420.2,82.1 L420.7,83.0 L421.3,83.9 L421.8,84.7 L422.3,85.6 L422.8,86.4 L423.3,87.3 L423.8,88.2 L424.3,89.0 L424.8,89.9 L425.3,90.7 L425.8,91.6 L426.4,92.4 L426.9,93.3 L427.4,94.2 L427.9,95.0 L428.4,95.9 L429.0,96.7 L429.5,97.5 L430.1,98.4 L430.6,99.2 L431.2,100.0 L431.7,100.9 L432.3,101.7 L432.9,102.5 L433.5,103.3 L434.2,104.0 L434.8,104.8 L435.5,105.6 L436.1,106.3 L436.8,107.0 L437.6,107.7 L438.3,108.4 L439.1,109.0 L439.8,109.6 L440.6,110.2 L441.5,110.8 L442.3,111.3 L443.2,111.8 L444.1,112.2 L445.0,112.7 L445.9,113.0 L446.9,113.4 L447.8,113.7 L448.8,114.0 L449.7,114.2 L450.7,114.5 L451.7,114.7 L452.7,114.9 L453.7,115.0 L454.6,115.2 L455.6,115.3 L456.6,115.4 L457.6,115.5 L458.6,115.6 L459.6,115.7 L460.6,115.8 L461.6,115.8 L462.6,115.9 L463.6,116.0 L464.6,116.0 L465.6,116.1 L466.6,116.2 L467.6,116.2 L468.6,116.3 L469.6,116.4 L470.6,116.6 L471.6,116.7 L472.5,116.9 L473.5,117.0 L474.5,117.3 L475.5,117.5 L476.4,117.8 L477.4,118.2 L478.3,118.5 L479.2,118.9 L480.1,119.4 L480.9,119.9 L481.8,120.4 L482.6,121.0 L483.4,121.6 L484.2,122.2 L484.9,122.9 L485.7,123.6 L486.4,124.3 L487.1,125.0 L487.7,125.7 L488.4,126.5 L489.0,127.3 L489.7,128.0 L490.3,128.8 L490.9,129.6 L491.4,130.5 L492.0,131.3 L492.6,132.1 L493.1,132.9 L493.6,133.8 L494.1,134.6 L494.7,135.5 L495.2,136.4 L495.7,137.2 L496.1,138.1 L496.6,139.0 L497.1,139.9 L497.5,140.8 L498.0,141.6 L498.4,142.5 L498.9,143.4 L499.3,144.3 L499.7,145.2 L500.2,146.2 L500.6,147.1 L501.0,148.0 L501.4,148.9 L501.8,149.8 L502.2,150.7 L502.6,151.6 L502.9,152.6 L503.3,153.5 L503.7,154.4 L504.0,155.4 L504.4,156.3 L504.8,157.2 L505.1,158.2 L505.5,159.1 L505.8,160.0 L506.2,161.0 L506.5,161.9 L506.8,162.8 L507.2,163.8 L507.5,164.7 L507.8,165.7 L508.2,166.6 L508.5,167.6 L508.8,168.5 L509.1,169.5 L509.5,170.4 L509.8,171.3 L510.1,172.3 L510.4,173.2 L510.7,174.2 L511.0,175.2 L511.3,176.1 L511.6,177.1 L511.9,178.0 L512.2,179.0 L512.4,179.9 L512.7,180.9 L513.0,181.8 L513.3,182.8 L513.6,183.8 L513.8,184.7 L514.1,185.7 L514.4,186.6 L514.7,187.6 L514.9,188.6 L515.2,189.5 L515.4,190.5 L515.7,191.5 L515.9,192.4 L516.2,193.4 L516.5,194.4 L516.7,195.3 L516.9,196.3 L517.2,197.3 L517.4,198.2 L517.7,199.2 L517.9,200.2 L518.1,201.2 L518.4,202.1 L518.6,203.1 L518.8,204.1 L519.0,205.1 L519.3,206.0 L519.5,207.0 L519.7,208.0 L519.9,209.0 L520.1,209.9 L520.3,210.9 L520.6,211.9 L520.8,212.9 L521.0,213.8 L521.2,214.8 L521.4,215.8 L521.6,216.8 L521.8,217.7 L522.0,218.7 L522.2,219.7 L522.4,220.7 L522.6,221.7 L522.8,222.6 L522.9,223.6 L523.1,224.6 L523.3,225.6 L523.5,226.6 L523.7,227.6 L523.9,228.5 L524.1,229.5 L524.3,230.5 L524.5,231.5 L524.7,232.5 L524.9,233.4 L525.1,234.4 L525.3,235.4 L525.5,236.4 L525.7,237.4 L525.9,238.3 L526.1,239.3 L526.3,240.3 L526.5,241.3 L526.7,242.2 L526.9,243.2 L527.1,244.2 L527.4,245.2 L527.6,246.1 L527.8,247.1 L528.1,248.1 L528.3,249.0 L528.5,250.0 L528.8,251.0 L529.0,252.0 L529.3,252.9 L529.6,253.9 L529.8,254.8 L530.1,255.8 L530.4,256.8 L530.7,257.7 L531.0,258.7 L531.2,259.6 L531.5,260.6 L531.9,261.5 L532.2,262.5 L532.5,263.4 L532.8,264.4 L533.2,265.3 L533.5,266.2 L533.9,267.2 L534.2,268.1 L534.6,269.0 L535.0,270.0 L535.3,270.9 L535.7,271.8 L536.1,272.7 L536.5,273.7 L536.9,274.6 L537.3,275.5 L537.7,276.4 L538.2,277.3 L538.6,278.2 L539.0,279.1 L539.5,280.0 L539.9,280.9 L540.4,281.8 L540.8,282.7 L541.3,283.6 L541.7,284.4 L542.2,285.3 L542.7,286.2 L543.2,287.1 L543.7,287.9 L544.2,288.8 L544.6,289.7 L545.1,290.5 L545.7,291.4 L546.2,292.3 L546.7,293.1 L547.2,294.0 L547.7,294.8 L548.2,295.7 L548.8,296.5 L549.3,297.4 L549.8,298.2 L550.4,299.1 L550.9,299.9 L551.4,300.8 L552.0,301.6 L552.5,302.4 L553.1,303.3 L553.6,304.1 L554.2,304.9 L554.7,305.8 L555.3,306.6 L555.8,307.5 L556.3,308.3 L556.9,309.1 L557.4,310.0 L558.0,310.8 L558.5,311.6 L559.1,312.5 L559.6,313.3 L560.1,314.2 L560.7,315.0 L561.2,315.9 L561.7,316.7 L562.3,317.6 L562.8,318.4 L563.3,319.3 L563.8,320.1 L564.3,321.0 L564.8,321.8 L565.4,322.7 L565.9,323.5 L566.4,324.4 L566.9,325.2 L567.5,326.1 L568.0,326.9 L568.5,327.8 L569.1,328.6 L569.6,329.4 L570.2,330.3 L570.7,331.1 L571.3,331.9 L571.9,332.7 L572.5,333.6 L573.0,334.4 L573.6,335.2 L574.3,336.0 L574.9,336.7 L575.5,337.5 L576.2,338.3 L576.8,339.0 L577.5,339.7 L578.2,340.5 L578.9,341.2 L579.7,341.8 L580.4,342.5 L581.2,343.1 L582.0,343.6 L582.9,344.2 L583.8,344.6 L584.7,345.1 L585.6,345.4 L586.6,345.7 L587.6,345.9 L588.5,346.0 L589.5,346.0 L590.5,346.0 L591.5,346.0 L684.0,346.0" stroke="#000000"/>
</g>
<rect x="94.5" y="78.2" width="166.8" height="108.3" fill="none" stroke="#7a7a7a" stroke-width="1.2"/>
<line x1="97.3" y1="87.80" x2="138.6" y2="87.80" stroke="#000000" stroke-width="2.3"/>
<line x1="97.3" y1="105.66" x2="114.3" y2="105.66" stroke="#ff0000" stroke-width="2.3"/>
<line x1="121.6" y1="105.66" x2="138.6" y2="105.66" stroke="#ff0000" stroke-width="2.3"/>
<path d="M116.2,107.66 L118.1,103.86 L120,107.66 M117.2,106.36 L119,106.36" stroke="#b8ec98" stroke-width="1.1" fill="none"/>
<line x1="97.3" y1="123.52" x2="138.6" y2="123.52" stroke="#00ff00" stroke-width="2.3"/>
<line x1="97.3" y1="141.38" x2="138.6" y2="141.38" stroke="#0000ff" stroke-width="2.3"/>
<line x1="97.3" y1="159.24" x2="138.6" y2="159.24" stroke="#ff00ff" stroke-width="2.3"/>
<line x1="97.3" y1="177.10" x2="138.6" y2="177.10" stroke="#808000" stroke-width="2.3"/><g font-family="Liberation Serif" font-weight="bold" style="font-kerning:none" stroke="#000" stroke-width="0.25"><text transform="translate(51.14,352.20) scale(1.2947,1)" font-size="19.5" fill="#000" >0</text>
<text transform="translate(49.77,284.35) scale(1.4904,1)" font-size="19.5" fill="#000" >1</text>
<text transform="translate(51.02,216.50) scale(1.3221,1)" font-size="19.5" fill="#000" >2</text>
<text transform="translate(51.16,148.65) scale(1.2814,1)" font-size="19.5" fill="#000" >3</text>
<text transform="translate(51.79,80.80) scale(1.1730,1)" font-size="19.5" fill="#000" >4</text>
<text transform="translate(51.09,12.95) scale(1.2962,1)" font-size="19.5" fill="#000" >5</text>
<text transform="translate(63.96,407.70) scale(1.2326,1)" font-size="20" fill="#000" >0.1</text>
<text transform="translate(218.47,407.70) scale(1.1408,1)" font-size="20" fill="#000" >1</text>
<text transform="translate(356.57,407.70) scale(1.2644,1)" font-size="20" fill="#000" >10</text>
<text transform="translate(494.55,407.70) scale(1.2773,1)" font-size="20" fill="#000" >100</text>
<text transform="translate(633.30,407.70) scale(1.2461,1)" font-size="20" fill="#000" >1000</text>
<text transform="translate(270.73,437.80) scale(1.3323,1)" font-size="20.5" fill="#000" >Particle size (µm)</text>
<text transform="translate(19.2,232.54) scale(1.33,1) rotate(-90)" font-size="21.20">Volume (%)</text>
<text transform="translate(85.27,29.70) scale(1.1986,1)" font-size="17.9" fill="#000" >UO</text>
<text transform="translate(119.13,32.90) scale(1.3934,1)" font-size="16.6" fill="#000" >2</text>
<text transform="translate(130.37,29.70) scale(1.2697,1)" font-size="17.9" fill="#000" >-Gd</text>
<text transform="translate(170.14,32.90) scale(1.3789,1)" font-size="16.6" fill="#000" >2</text>
<text transform="translate(182.07,29.70) scale(1.2977,1)" font-size="17.9" fill="#000" >O</text>
<text transform="translate(199.28,32.90) scale(1.4771,1)" font-size="16.6" fill="#000" >3</text>
<text transform="translate(211.36,29.70) scale(1.3163,1)" font-size="17.9" fill="#000" >( 5 wt.%)</text>
<text transform="translate(85.40,55.10) scale(1.2980,1)" font-size="17.9" fill="#000" >Hydrogen reduced samples</text>
<text transform="translate(143.13,92.70) scale(1.3508,1)" font-size="13.6" fill="#000" >1.</text>
<text transform="translate(167.46,92.70) scale(1.3135,1)" font-size="13.6" fill="#000" >UGd25HR</text>
<text transform="translate(143.87,110.56) scale(1.2734,1)" font-size="13.6" fill="#000" >2.</text>
<text transform="translate(167.46,110.56) scale(1.3135,1)" font-size="13.6" fill="#000" >UGd50HR</text>
<text transform="translate(143.95,128.42) scale(1.2650,1)" font-size="13.6" fill="#000" >3.</text>
<text transform="translate(167.46,128.42) scale(1.3135,1)" font-size="13.6" fill="#000" >UGd75HR</text>
<text transform="translate(144.37,146.28) scale(1.2213,1)" font-size="13.6" fill="#000" >4.</text>
<text transform="translate(167.45,146.28) scale(1.3174,1)" font-size="13.6" fill="#000" >UGd100HR</text>
<text transform="translate(143.91,164.14) scale(1.2696,1)" font-size="13.6" fill="#000" >5.</text>
<text transform="translate(167.45,164.14) scale(1.3174,1)" font-size="13.6" fill="#000" >UGd125HR</text>
<text transform="translate(144.01,182.00) scale(1.2585,1)" font-size="13.6" fill="#000" >6.</text>
<text transform="translate(167.45,182.00) scale(1.3174,1)" font-size="13.6" fill="#000" >UGd150HR</text>
<text transform="translate(372.28,21.50) scale(1.2029,1)" font-size="21" fill="#000" >1</text>
<text transform="translate(437.22,19.60) scale(1.2455,1)" font-size="21" fill="#000" >3</text>
<text transform="translate(485.04,65.60) scale(1.3194,1)" font-size="21" fill="#000" >2</text>
<text transform="translate(534.00,171.30) scale(1.2545,1)" font-size="21" fill="#000" >6</text>
<text transform="translate(482.16,213.80) scale(1.2373,1)" font-size="21" fill="#000" >5</text>
<text transform="translate(589.56,179.30) scale(1.1707,1)" font-size="21" fill="#000" >4</text></g></svg>
</body></html>
